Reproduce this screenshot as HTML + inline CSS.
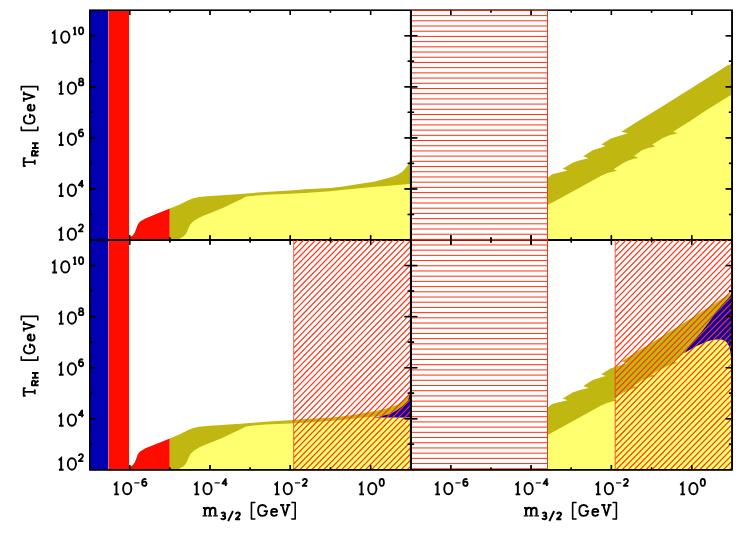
<!DOCTYPE html>
<html><head><meta charset="utf-8"><title>T_RH vs m_3/2</title>
<style>html,body{margin:0;padding:0;background:#fff;overflow:hidden;font-family:"Liberation Sans",sans-serif;}svg{display:block;}</style>
</head><body>
<svg width="747" height="534" viewBox="0 0 747 534">
<rect width="747" height="534" fill="#fff"/>
<defs>
<clipPath id="cTL"><rect x="89.8" y="10.2" width="321.09999999999997" height="229.8"/></clipPath>
<clipPath id="cBL"><rect x="89.8" y="240.0" width="321.09999999999997" height="229.8"/></clipPath>
<clipPath id="cTR"><rect x="410.9" y="10.2" width="321.20000000000005" height="229.8"/></clipPath>
<clipPath id="cBR"><rect x="410.9" y="240.0" width="321.20000000000005" height="229.8"/></clipPath>
<clipPath id="hBL"><rect x="293.7" y="240.0" width="117.19999999999999" height="229.8"/></clipPath>
<clipPath id="hBR"><rect x="615.2" y="240.0" width="116.89999999999998" height="229.8"/></clipPath>
</defs>
<g clip-path="url(#cTL)">
<rect x="89.8" y="10.2" width="18.45" height="229.8" fill="#0000b2"/>
<rect x="108.25" y="10.2" width="0.4" height="229.8" fill="#c8b0a0"/>
<rect x="108.6" y="10.2" width="20.40" height="229.8" fill="#ff0c00"/>
<polygon points="129.0,240.0 129.4,237.7 132.6,235.5 134.7,232.8 136.3,228.6 137.9,224.3 140.1,221.6 145.4,218.4 156.1,214.1 169.8,208.6 169.8,240.0" fill="#ff0c00"/>
<polygon points="169.8,208.6 179.7,204.5 188.3,200.2 192.5,198.4 199.0,197.0 204.0,196.4 210.4,196.0 225.0,195.0 240.5,193.9 265.0,192.0 290.0,190.4 305.0,189.3 330.0,188.0 341.2,186.7 352.5,185.1 363.7,183.3 375.0,181.4 386.2,178.6 391.8,176.9 397.5,174.7 402.0,171.9 405.3,168.5 408.2,164.6 409.8,160.6 410.9,157.5 410.9,240.0 169.8,240.0" fill="#c0b810"/>
<polygon points="178.0,240.0 179.7,238.7 184.0,236.1 186.6,232.8 188.3,228.6 190.4,224.3 193.6,221.1 199.0,217.8 204.0,215.5 210.4,213.0 224.4,207.2 233.0,203.0 240.5,199.4 243.5,198.0 246.0,196.6 252.0,195.9 265.0,194.8 290.0,193.7 305.0,192.9 330.0,191.2 341.2,190.1 352.5,189.0 363.7,187.8 375.0,186.8 386.2,185.9 397.5,185.1 408.7,184.0 410.9,183.6 410.9,240.0" fill="#ffff70"/>
</g>
<g clip-path="url(#cBL)">
<rect x="89.8" y="240.0" width="18.45" height="229.8" fill="#0000b2"/>
<rect x="108.25" y="240.0" width="0.4" height="229.8" fill="#c8b0a0"/>
<rect x="108.6" y="240.0" width="20.40" height="229.8" fill="#ff0c00"/>
<polygon points="129.0,469.8 129.4,467.5 132.6,465.3 134.7,462.6 136.3,458.4 137.9,454.1 140.1,451.4 145.4,448.2 156.1,443.9 169.8,438.4 169.8,469.8" fill="#ff0c00"/>
<polygon points="169.8,438.4 179.7,434.3 188.3,430.0 192.5,428.2 199.0,426.8 204.0,426.2 210.4,425.8 225.0,424.8 240.5,423.7 265.0,421.8 290.0,420.2 305.0,419.1 330.0,417.8 341.2,416.5 352.5,414.9 363.7,413.1 375.0,411.2 386.2,408.4 391.8,406.7 397.5,404.5 402.0,401.7 405.3,398.3 408.2,394.4 409.8,390.4 410.9,387.3 410.9,469.8 169.8,469.8" fill="#c0b810"/>
<polygon points="178.0,469.8 179.7,468.5 184.0,465.9 186.6,462.6 188.3,458.4 190.4,454.1 193.6,450.9 199.0,447.6 204.0,445.3 210.4,442.8 224.4,437.0 233.0,432.8 240.5,429.2 243.5,427.8 246.0,426.4 252.0,425.7 265.0,424.6 290.0,423.5 305.0,422.7 330.0,421.0 341.2,419.9 352.5,418.8 363.7,417.6 375.0,416.6 386.2,415.7 397.5,414.9 408.7,413.8 410.9,413.4 410.9,469.8" fill="#ffff70"/>
</g>
<polygon points="372.0,417.5 379.5,416.7 384.0,415.4 390.0,413.9 393.0,412.4 397.5,409.7 402.0,406.4 405.0,403.7 408.0,400.7 409.1,397.0 409.6,394.0 410.9,392.0 410.9,417.5" fill="#0a00ae"/>
<g clip-path="url(#cTR)"><polygon points="547.5,178.0 552.0,174.3 559.0,172.5 567.5,170.4 562.6,168.7 573.1,162.4 580.1,160.3 588.5,158.2 583.2,156.3 592.7,150.2 599.8,147.9 605.6,146.1 601.2,144.5 611.0,138.5 618.0,136.2 627.9,133.3 621.3,131.7 639.9,120.0 650.0,113.9 670.9,101.1 717.1,71.9 726.8,65.8 732.1,63.4 732.1,240.0 547.5,240.0" fill="#c0b810"/><polygon points="547.5,205.1 559.0,198.9 573.1,191.2 587.1,183.4 601.2,175.7 606.8,173.2 612.4,171.8 617.2,170.8 613.6,169.3 623.3,163.0 629.1,160.3 633.9,158.8 638.7,158.0 633.9,156.1 642.3,150.1 648.4,148.0 655.6,146.3 652.0,144.7 662.8,138.1 670.1,135.1 677.9,133.3 673.1,131.8 691.7,120.0 707.4,109.6 732.1,94.3 732.1,240.0 547.5,240.0" fill="#ffff70"/></g>
<g clip-path="url(#cBR)"><polygon points="547.5,407.8 552.0,404.1 559.0,402.3 567.5,400.2 562.6,398.5 573.1,392.2 580.1,390.1 588.5,388.0 583.2,386.1 592.7,380.0 599.8,377.7 605.6,375.9 601.2,374.3 611.0,368.3 618.0,366.0 627.9,363.1 621.3,361.5 639.9,349.8 650.0,343.7 670.9,330.9 717.1,301.7 726.8,295.6 732.1,293.2 732.1,469.8 547.5,469.8" fill="#c0b810"/><polygon points="684.4,353.1 693.5,340.9 701.8,331.5 709.7,321.2 716.7,311.0 723.0,303.9 727.8,299.0 732.1,293.2 732.1,375.0 684.4,375.0" fill="#0a00ae"/><polygon points="547.5,434.9 559.0,428.7 573.1,421.0 587.1,413.2 601.2,405.5 606.8,403.0 612.4,401.6 617.2,400.6 613.6,399.1 623.3,392.8 629.1,390.1 633.9,388.6 638.7,387.8 633.9,385.9 642.3,379.9 648.4,377.8 655.6,376.1 652.0,374.5 662.8,367.9 670.1,364.9 677.9,363.1 673.1,361.6 684.4,353.1 694.7,346.9 705.0,342.3 711.0,340.2 716.2,339.4 721.8,339.6 726.3,341.8 729.1,346.3 730.4,351.9 731.4,360.9 732.1,372.0 732.1,469.8 547.5,469.8" fill="#ffff70"/></g>
<rect x="89.8" y="10.2" width="642.3000000000001" height="459.6" stroke="#000" stroke-width="1.6" fill="none"/>
<line x1="89.8" y1="240.0" x2="732.1" y2="240.0" stroke="#000" stroke-width="1.8"/>
<line x1="410.9" y1="10.2" x2="410.9" y2="469.8" stroke="#000" stroke-width="1.9"/>
<line x1="129.70" y1="10.2" x2="129.70" y2="15.0" stroke="#000" stroke-width="1.35"/>
<line x1="129.70" y1="235.2" x2="129.70" y2="244.8" stroke="#000" stroke-width="1.35"/>
<line x1="129.70" y1="465.0" x2="129.70" y2="469.8" stroke="#000" stroke-width="1.35"/>
<line x1="169.85" y1="10.2" x2="169.85" y2="12.6" stroke="#000" stroke-width="1.35"/>
<line x1="169.85" y1="237.6" x2="169.85" y2="242.4" stroke="#000" stroke-width="1.35"/>
<line x1="169.85" y1="467.40000000000003" x2="169.85" y2="469.8" stroke="#000" stroke-width="1.35"/>
<line x1="210.00" y1="10.2" x2="210.00" y2="15.0" stroke="#000" stroke-width="1.35"/>
<line x1="210.00" y1="235.2" x2="210.00" y2="244.8" stroke="#000" stroke-width="1.35"/>
<line x1="210.00" y1="465.0" x2="210.00" y2="469.8" stroke="#000" stroke-width="1.35"/>
<line x1="250.15" y1="10.2" x2="250.15" y2="12.6" stroke="#000" stroke-width="1.35"/>
<line x1="250.15" y1="237.6" x2="250.15" y2="242.4" stroke="#000" stroke-width="1.35"/>
<line x1="250.15" y1="467.40000000000003" x2="250.15" y2="469.8" stroke="#000" stroke-width="1.35"/>
<line x1="290.30" y1="10.2" x2="290.30" y2="15.0" stroke="#000" stroke-width="1.35"/>
<line x1="290.30" y1="235.2" x2="290.30" y2="244.8" stroke="#000" stroke-width="1.35"/>
<line x1="290.30" y1="465.0" x2="290.30" y2="469.8" stroke="#000" stroke-width="1.35"/>
<line x1="330.45" y1="10.2" x2="330.45" y2="12.6" stroke="#000" stroke-width="1.35"/>
<line x1="330.45" y1="237.6" x2="330.45" y2="242.4" stroke="#000" stroke-width="1.35"/>
<line x1="330.45" y1="467.40000000000003" x2="330.45" y2="469.8" stroke="#000" stroke-width="1.35"/>
<line x1="370.60" y1="10.2" x2="370.60" y2="15.0" stroke="#000" stroke-width="1.35"/>
<line x1="370.60" y1="235.2" x2="370.60" y2="244.8" stroke="#000" stroke-width="1.35"/>
<line x1="370.60" y1="465.0" x2="370.60" y2="469.8" stroke="#000" stroke-width="1.35"/>
<line x1="450.80" y1="10.2" x2="450.80" y2="15.0" stroke="#000" stroke-width="1.35"/>
<line x1="450.80" y1="235.2" x2="450.80" y2="244.8" stroke="#000" stroke-width="1.35"/>
<line x1="450.80" y1="465.0" x2="450.80" y2="469.8" stroke="#000" stroke-width="1.35"/>
<line x1="490.95" y1="10.2" x2="490.95" y2="12.6" stroke="#000" stroke-width="1.35"/>
<line x1="490.95" y1="237.6" x2="490.95" y2="242.4" stroke="#000" stroke-width="1.35"/>
<line x1="490.95" y1="467.40000000000003" x2="490.95" y2="469.8" stroke="#000" stroke-width="1.35"/>
<line x1="531.10" y1="10.2" x2="531.10" y2="15.0" stroke="#000" stroke-width="1.35"/>
<line x1="531.10" y1="235.2" x2="531.10" y2="244.8" stroke="#000" stroke-width="1.35"/>
<line x1="531.10" y1="465.0" x2="531.10" y2="469.8" stroke="#000" stroke-width="1.35"/>
<line x1="571.25" y1="10.2" x2="571.25" y2="12.6" stroke="#000" stroke-width="1.35"/>
<line x1="571.25" y1="237.6" x2="571.25" y2="242.4" stroke="#000" stroke-width="1.35"/>
<line x1="571.25" y1="467.40000000000003" x2="571.25" y2="469.8" stroke="#000" stroke-width="1.35"/>
<line x1="611.40" y1="10.2" x2="611.40" y2="15.0" stroke="#000" stroke-width="1.35"/>
<line x1="611.40" y1="235.2" x2="611.40" y2="244.8" stroke="#000" stroke-width="1.35"/>
<line x1="611.40" y1="465.0" x2="611.40" y2="469.8" stroke="#000" stroke-width="1.35"/>
<line x1="651.55" y1="10.2" x2="651.55" y2="12.6" stroke="#000" stroke-width="1.35"/>
<line x1="651.55" y1="237.6" x2="651.55" y2="242.4" stroke="#000" stroke-width="1.35"/>
<line x1="651.55" y1="467.40000000000003" x2="651.55" y2="469.8" stroke="#000" stroke-width="1.35"/>
<line x1="691.70" y1="10.2" x2="691.70" y2="15.0" stroke="#000" stroke-width="1.35"/>
<line x1="691.70" y1="235.2" x2="691.70" y2="244.8" stroke="#000" stroke-width="1.35"/>
<line x1="691.70" y1="465.0" x2="691.70" y2="469.8" stroke="#000" stroke-width="1.35"/>
<line x1="89.8" y1="214.47" x2="93.0" y2="214.47" stroke="#000" stroke-width="1.35"/>
<line x1="407.7" y1="214.47" x2="414.09999999999997" y2="214.47" stroke="#000" stroke-width="1.35"/>
<line x1="728.9" y1="214.47" x2="732.1" y2="214.47" stroke="#000" stroke-width="1.35"/>
<line x1="89.8" y1="188.93" x2="96.2" y2="188.93" stroke="#000" stroke-width="1.35"/>
<line x1="404.5" y1="188.93" x2="417.29999999999995" y2="188.93" stroke="#000" stroke-width="1.35"/>
<line x1="725.7" y1="188.93" x2="732.1" y2="188.93" stroke="#000" stroke-width="1.35"/>
<line x1="89.8" y1="163.40" x2="93.0" y2="163.40" stroke="#000" stroke-width="1.35"/>
<line x1="407.7" y1="163.40" x2="414.09999999999997" y2="163.40" stroke="#000" stroke-width="1.35"/>
<line x1="728.9" y1="163.40" x2="732.1" y2="163.40" stroke="#000" stroke-width="1.35"/>
<line x1="89.8" y1="137.87" x2="96.2" y2="137.87" stroke="#000" stroke-width="1.35"/>
<line x1="404.5" y1="137.87" x2="417.29999999999995" y2="137.87" stroke="#000" stroke-width="1.35"/>
<line x1="725.7" y1="137.87" x2="732.1" y2="137.87" stroke="#000" stroke-width="1.35"/>
<line x1="89.8" y1="112.33" x2="93.0" y2="112.33" stroke="#000" stroke-width="1.35"/>
<line x1="407.7" y1="112.33" x2="414.09999999999997" y2="112.33" stroke="#000" stroke-width="1.35"/>
<line x1="728.9" y1="112.33" x2="732.1" y2="112.33" stroke="#000" stroke-width="1.35"/>
<line x1="89.8" y1="86.80" x2="96.2" y2="86.80" stroke="#000" stroke-width="1.35"/>
<line x1="404.5" y1="86.80" x2="417.29999999999995" y2="86.80" stroke="#000" stroke-width="1.35"/>
<line x1="725.7" y1="86.80" x2="732.1" y2="86.80" stroke="#000" stroke-width="1.35"/>
<line x1="89.8" y1="61.27" x2="93.0" y2="61.27" stroke="#000" stroke-width="1.35"/>
<line x1="407.7" y1="61.27" x2="414.09999999999997" y2="61.27" stroke="#000" stroke-width="1.35"/>
<line x1="728.9" y1="61.27" x2="732.1" y2="61.27" stroke="#000" stroke-width="1.35"/>
<line x1="89.8" y1="35.73" x2="96.2" y2="35.73" stroke="#000" stroke-width="1.35"/>
<line x1="404.5" y1="35.73" x2="417.29999999999995" y2="35.73" stroke="#000" stroke-width="1.35"/>
<line x1="725.7" y1="35.73" x2="732.1" y2="35.73" stroke="#000" stroke-width="1.35"/>
<line x1="89.8" y1="444.27" x2="93.0" y2="444.27" stroke="#000" stroke-width="1.35"/>
<line x1="407.7" y1="444.27" x2="414.09999999999997" y2="444.27" stroke="#000" stroke-width="1.35"/>
<line x1="728.9" y1="444.27" x2="732.1" y2="444.27" stroke="#000" stroke-width="1.35"/>
<line x1="89.8" y1="418.73" x2="96.2" y2="418.73" stroke="#000" stroke-width="1.35"/>
<line x1="404.5" y1="418.73" x2="417.29999999999995" y2="418.73" stroke="#000" stroke-width="1.35"/>
<line x1="725.7" y1="418.73" x2="732.1" y2="418.73" stroke="#000" stroke-width="1.35"/>
<line x1="89.8" y1="393.20" x2="93.0" y2="393.20" stroke="#000" stroke-width="1.35"/>
<line x1="407.7" y1="393.20" x2="414.09999999999997" y2="393.20" stroke="#000" stroke-width="1.35"/>
<line x1="728.9" y1="393.20" x2="732.1" y2="393.20" stroke="#000" stroke-width="1.35"/>
<line x1="89.8" y1="367.67" x2="96.2" y2="367.67" stroke="#000" stroke-width="1.35"/>
<line x1="404.5" y1="367.67" x2="417.29999999999995" y2="367.67" stroke="#000" stroke-width="1.35"/>
<line x1="725.7" y1="367.67" x2="732.1" y2="367.67" stroke="#000" stroke-width="1.35"/>
<line x1="89.8" y1="342.13" x2="93.0" y2="342.13" stroke="#000" stroke-width="1.35"/>
<line x1="407.7" y1="342.13" x2="414.09999999999997" y2="342.13" stroke="#000" stroke-width="1.35"/>
<line x1="728.9" y1="342.13" x2="732.1" y2="342.13" stroke="#000" stroke-width="1.35"/>
<line x1="89.8" y1="316.60" x2="96.2" y2="316.60" stroke="#000" stroke-width="1.35"/>
<line x1="404.5" y1="316.60" x2="417.29999999999995" y2="316.60" stroke="#000" stroke-width="1.35"/>
<line x1="725.7" y1="316.60" x2="732.1" y2="316.60" stroke="#000" stroke-width="1.35"/>
<line x1="89.8" y1="291.07" x2="93.0" y2="291.07" stroke="#000" stroke-width="1.35"/>
<line x1="407.7" y1="291.07" x2="414.09999999999997" y2="291.07" stroke="#000" stroke-width="1.35"/>
<line x1="728.9" y1="291.07" x2="732.1" y2="291.07" stroke="#000" stroke-width="1.35"/>
<line x1="89.8" y1="265.53" x2="96.2" y2="265.53" stroke="#000" stroke-width="1.35"/>
<line x1="404.5" y1="265.53" x2="417.29999999999995" y2="265.53" stroke="#000" stroke-width="1.35"/>
<line x1="725.7" y1="265.53" x2="732.1" y2="265.53" stroke="#000" stroke-width="1.35"/>
<line x1="411.79999999999995" y1="10.40" x2="547.5" y2="10.40" stroke="#ff3010" stroke-width="1.0"/>
<line x1="411.79999999999995" y1="15.60" x2="547.5" y2="15.60" stroke="#ff3010" stroke-width="1.0"/>
<line x1="411.79999999999995" y1="20.81" x2="547.5" y2="20.81" stroke="#ff3010" stroke-width="1.0"/>
<line x1="411.79999999999995" y1="26.02" x2="547.5" y2="26.02" stroke="#ff3010" stroke-width="1.0"/>
<line x1="411.79999999999995" y1="31.22" x2="547.5" y2="31.22" stroke="#ff3010" stroke-width="1.0"/>
<line x1="411.79999999999995" y1="36.42" x2="547.5" y2="36.42" stroke="#ff3010" stroke-width="1.0"/>
<line x1="411.79999999999995" y1="41.63" x2="547.5" y2="41.63" stroke="#ff3010" stroke-width="1.0"/>
<line x1="411.79999999999995" y1="46.84" x2="547.5" y2="46.84" stroke="#ff3010" stroke-width="1.0"/>
<line x1="411.79999999999995" y1="52.04" x2="547.5" y2="52.04" stroke="#ff3010" stroke-width="1.0"/>
<line x1="411.79999999999995" y1="57.24" x2="547.5" y2="57.24" stroke="#ff3010" stroke-width="1.0"/>
<line x1="411.79999999999995" y1="62.45" x2="547.5" y2="62.45" stroke="#ff3010" stroke-width="1.0"/>
<line x1="411.79999999999995" y1="67.66" x2="547.5" y2="67.66" stroke="#ff3010" stroke-width="1.0"/>
<line x1="411.79999999999995" y1="72.86" x2="547.5" y2="72.86" stroke="#ff3010" stroke-width="1.0"/>
<line x1="411.79999999999995" y1="78.06" x2="547.5" y2="78.06" stroke="#ff3010" stroke-width="1.0"/>
<line x1="411.79999999999995" y1="83.27" x2="547.5" y2="83.27" stroke="#ff3010" stroke-width="1.0"/>
<line x1="411.79999999999995" y1="88.47" x2="547.5" y2="88.47" stroke="#ff3010" stroke-width="1.0"/>
<line x1="411.79999999999995" y1="93.68" x2="547.5" y2="93.68" stroke="#ff3010" stroke-width="1.0"/>
<line x1="411.79999999999995" y1="98.88" x2="547.5" y2="98.88" stroke="#ff3010" stroke-width="1.0"/>
<line x1="411.79999999999995" y1="104.09" x2="547.5" y2="104.09" stroke="#ff3010" stroke-width="1.0"/>
<line x1="411.79999999999995" y1="109.29" x2="547.5" y2="109.29" stroke="#ff3010" stroke-width="1.0"/>
<line x1="411.79999999999995" y1="114.50" x2="547.5" y2="114.50" stroke="#ff3010" stroke-width="1.0"/>
<line x1="411.79999999999995" y1="119.71" x2="547.5" y2="119.71" stroke="#ff3010" stroke-width="1.0"/>
<line x1="411.79999999999995" y1="124.91" x2="547.5" y2="124.91" stroke="#ff3010" stroke-width="1.0"/>
<line x1="411.79999999999995" y1="130.12" x2="547.5" y2="130.12" stroke="#ff3010" stroke-width="1.0"/>
<line x1="411.79999999999995" y1="135.32" x2="547.5" y2="135.32" stroke="#ff3010" stroke-width="1.0"/>
<line x1="411.79999999999995" y1="140.53" x2="547.5" y2="140.53" stroke="#ff3010" stroke-width="1.0"/>
<line x1="411.79999999999995" y1="145.73" x2="547.5" y2="145.73" stroke="#ff3010" stroke-width="1.0"/>
<line x1="411.79999999999995" y1="150.94" x2="547.5" y2="150.94" stroke="#ff3010" stroke-width="1.0"/>
<line x1="411.79999999999995" y1="156.14" x2="547.5" y2="156.14" stroke="#ff3010" stroke-width="1.0"/>
<line x1="411.79999999999995" y1="161.34" x2="547.5" y2="161.34" stroke="#ff3010" stroke-width="1.0"/>
<line x1="411.79999999999995" y1="166.55" x2="547.5" y2="166.55" stroke="#ff3010" stroke-width="1.0"/>
<line x1="411.79999999999995" y1="171.75" x2="547.5" y2="171.75" stroke="#ff3010" stroke-width="1.0"/>
<line x1="411.79999999999995" y1="176.96" x2="547.5" y2="176.96" stroke="#ff3010" stroke-width="1.0"/>
<line x1="411.79999999999995" y1="182.17" x2="547.5" y2="182.17" stroke="#ff3010" stroke-width="1.0"/>
<line x1="411.79999999999995" y1="187.37" x2="547.5" y2="187.37" stroke="#ff3010" stroke-width="1.0"/>
<line x1="411.79999999999995" y1="192.58" x2="547.5" y2="192.58" stroke="#ff3010" stroke-width="1.0"/>
<line x1="411.79999999999995" y1="197.78" x2="547.5" y2="197.78" stroke="#ff3010" stroke-width="1.0"/>
<line x1="411.79999999999995" y1="202.99" x2="547.5" y2="202.99" stroke="#ff3010" stroke-width="1.0"/>
<line x1="411.79999999999995" y1="208.19" x2="547.5" y2="208.19" stroke="#ff3010" stroke-width="1.0"/>
<line x1="411.79999999999995" y1="213.40" x2="547.5" y2="213.40" stroke="#ff3010" stroke-width="1.0"/>
<line x1="411.79999999999995" y1="218.60" x2="547.5" y2="218.60" stroke="#ff3010" stroke-width="1.0"/>
<line x1="411.79999999999995" y1="223.81" x2="547.5" y2="223.81" stroke="#ff3010" stroke-width="1.0"/>
<line x1="411.79999999999995" y1="229.01" x2="547.5" y2="229.01" stroke="#ff3010" stroke-width="1.0"/>
<line x1="411.79999999999995" y1="234.22" x2="547.5" y2="234.22" stroke="#ff3010" stroke-width="1.0"/>
<line x1="411.79999999999995" y1="239.42" x2="547.5" y2="239.42" stroke="#ff3010" stroke-width="1.0"/>
<line x1="411.79999999999995" y1="239.75" x2="547.5" y2="239.75" stroke="#ff3010" stroke-width="1.0"/>
<line x1="411.79999999999995" y1="244.96" x2="547.5" y2="244.96" stroke="#ff3010" stroke-width="1.0"/>
<line x1="411.79999999999995" y1="250.16" x2="547.5" y2="250.16" stroke="#ff3010" stroke-width="1.0"/>
<line x1="411.79999999999995" y1="255.37" x2="547.5" y2="255.37" stroke="#ff3010" stroke-width="1.0"/>
<line x1="411.79999999999995" y1="260.57" x2="547.5" y2="260.57" stroke="#ff3010" stroke-width="1.0"/>
<line x1="411.79999999999995" y1="265.77" x2="547.5" y2="265.77" stroke="#ff3010" stroke-width="1.0"/>
<line x1="411.79999999999995" y1="270.98" x2="547.5" y2="270.98" stroke="#ff3010" stroke-width="1.0"/>
<line x1="411.79999999999995" y1="276.19" x2="547.5" y2="276.19" stroke="#ff3010" stroke-width="1.0"/>
<line x1="411.79999999999995" y1="281.39" x2="547.5" y2="281.39" stroke="#ff3010" stroke-width="1.0"/>
<line x1="411.79999999999995" y1="286.60" x2="547.5" y2="286.60" stroke="#ff3010" stroke-width="1.0"/>
<line x1="411.79999999999995" y1="291.80" x2="547.5" y2="291.80" stroke="#ff3010" stroke-width="1.0"/>
<line x1="411.79999999999995" y1="297.00" x2="547.5" y2="297.00" stroke="#ff3010" stroke-width="1.0"/>
<line x1="411.79999999999995" y1="302.21" x2="547.5" y2="302.21" stroke="#ff3010" stroke-width="1.0"/>
<line x1="411.79999999999995" y1="307.42" x2="547.5" y2="307.42" stroke="#ff3010" stroke-width="1.0"/>
<line x1="411.79999999999995" y1="312.62" x2="547.5" y2="312.62" stroke="#ff3010" stroke-width="1.0"/>
<line x1="411.79999999999995" y1="317.82" x2="547.5" y2="317.82" stroke="#ff3010" stroke-width="1.0"/>
<line x1="411.79999999999995" y1="323.03" x2="547.5" y2="323.03" stroke="#ff3010" stroke-width="1.0"/>
<line x1="411.79999999999995" y1="328.24" x2="547.5" y2="328.24" stroke="#ff3010" stroke-width="1.0"/>
<line x1="411.79999999999995" y1="333.44" x2="547.5" y2="333.44" stroke="#ff3010" stroke-width="1.0"/>
<line x1="411.79999999999995" y1="338.64" x2="547.5" y2="338.64" stroke="#ff3010" stroke-width="1.0"/>
<line x1="411.79999999999995" y1="343.85" x2="547.5" y2="343.85" stroke="#ff3010" stroke-width="1.0"/>
<line x1="411.79999999999995" y1="349.06" x2="547.5" y2="349.06" stroke="#ff3010" stroke-width="1.0"/>
<line x1="411.79999999999995" y1="354.26" x2="547.5" y2="354.26" stroke="#ff3010" stroke-width="1.0"/>
<line x1="411.79999999999995" y1="359.47" x2="547.5" y2="359.47" stroke="#ff3010" stroke-width="1.0"/>
<line x1="411.79999999999995" y1="364.67" x2="547.5" y2="364.67" stroke="#ff3010" stroke-width="1.0"/>
<line x1="411.79999999999995" y1="369.88" x2="547.5" y2="369.88" stroke="#ff3010" stroke-width="1.0"/>
<line x1="411.79999999999995" y1="375.08" x2="547.5" y2="375.08" stroke="#ff3010" stroke-width="1.0"/>
<line x1="411.79999999999995" y1="380.28" x2="547.5" y2="380.28" stroke="#ff3010" stroke-width="1.0"/>
<line x1="411.79999999999995" y1="385.49" x2="547.5" y2="385.49" stroke="#ff3010" stroke-width="1.0"/>
<line x1="411.79999999999995" y1="390.69" x2="547.5" y2="390.69" stroke="#ff3010" stroke-width="1.0"/>
<line x1="411.79999999999995" y1="395.90" x2="547.5" y2="395.90" stroke="#ff3010" stroke-width="1.0"/>
<line x1="411.79999999999995" y1="401.11" x2="547.5" y2="401.11" stroke="#ff3010" stroke-width="1.0"/>
<line x1="411.79999999999995" y1="406.31" x2="547.5" y2="406.31" stroke="#ff3010" stroke-width="1.0"/>
<line x1="411.79999999999995" y1="411.51" x2="547.5" y2="411.51" stroke="#ff3010" stroke-width="1.0"/>
<line x1="411.79999999999995" y1="416.72" x2="547.5" y2="416.72" stroke="#ff3010" stroke-width="1.0"/>
<line x1="411.79999999999995" y1="421.93" x2="547.5" y2="421.93" stroke="#ff3010" stroke-width="1.0"/>
<line x1="411.79999999999995" y1="427.13" x2="547.5" y2="427.13" stroke="#ff3010" stroke-width="1.0"/>
<line x1="411.79999999999995" y1="432.34" x2="547.5" y2="432.34" stroke="#ff3010" stroke-width="1.0"/>
<line x1="411.79999999999995" y1="437.54" x2="547.5" y2="437.54" stroke="#ff3010" stroke-width="1.0"/>
<line x1="411.79999999999995" y1="442.75" x2="547.5" y2="442.75" stroke="#ff3010" stroke-width="1.0"/>
<line x1="411.79999999999995" y1="447.95" x2="547.5" y2="447.95" stroke="#ff3010" stroke-width="1.0"/>
<line x1="411.79999999999995" y1="453.15" x2="547.5" y2="453.15" stroke="#ff3010" stroke-width="1.0"/>
<line x1="411.79999999999995" y1="458.36" x2="547.5" y2="458.36" stroke="#ff3010" stroke-width="1.0"/>
<line x1="411.79999999999995" y1="463.56" x2="547.5" y2="463.56" stroke="#ff3010" stroke-width="1.0"/>
<line x1="411.79999999999995" y1="468.77" x2="547.5" y2="468.77" stroke="#ff3010" stroke-width="1.0"/>
<line x1="411.79999999999995" y1="240.3" x2="547.5" y2="240.3" stroke="#d01c00" stroke-width="1.1" opacity="0.85"/>
<line x1="450.80" y1="235.2" x2="450.80" y2="244.8" stroke="#000" stroke-width="1.35"/>
<line x1="490.95" y1="237.6" x2="490.95" y2="242.4" stroke="#000" stroke-width="1.35"/>
<line x1="531.10" y1="235.2" x2="531.10" y2="244.8" stroke="#000" stroke-width="1.35"/>
<line x1="547.5" y1="10.2" x2="547.5" y2="469.8" stroke="#ff3010" stroke-width="1.0"/>
<g clip-path="url(#hBL)">
<line x1="293.70" y1="-115.70" x2="410.90" y2="-235.66" stroke="#ff3010" stroke-width="1.2"/>
<line x1="293.70" y1="-109.60" x2="410.90" y2="-229.56" stroke="#ff3010" stroke-width="1.2"/>
<line x1="293.70" y1="-103.50" x2="410.90" y2="-223.46" stroke="#ff3010" stroke-width="1.2"/>
<line x1="293.70" y1="-97.40" x2="410.90" y2="-217.36" stroke="#ff3010" stroke-width="1.2"/>
<line x1="293.70" y1="-91.30" x2="410.90" y2="-211.26" stroke="#ff3010" stroke-width="1.2"/>
<line x1="293.70" y1="-85.20" x2="410.90" y2="-205.16" stroke="#ff3010" stroke-width="1.2"/>
<line x1="293.70" y1="-79.10" x2="410.90" y2="-199.06" stroke="#ff3010" stroke-width="1.2"/>
<line x1="293.70" y1="-73.00" x2="410.90" y2="-192.96" stroke="#ff3010" stroke-width="1.2"/>
<line x1="293.70" y1="-66.90" x2="410.90" y2="-186.86" stroke="#ff3010" stroke-width="1.2"/>
<line x1="293.70" y1="-60.80" x2="410.90" y2="-180.76" stroke="#ff3010" stroke-width="1.2"/>
<line x1="293.70" y1="-54.70" x2="410.90" y2="-174.66" stroke="#ff3010" stroke-width="1.2"/>
<line x1="293.70" y1="-48.60" x2="410.90" y2="-168.56" stroke="#ff3010" stroke-width="1.2"/>
<line x1="293.70" y1="-42.50" x2="410.90" y2="-162.46" stroke="#ff3010" stroke-width="1.2"/>
<line x1="293.70" y1="-36.40" x2="410.90" y2="-156.36" stroke="#ff3010" stroke-width="1.2"/>
<line x1="293.70" y1="-30.30" x2="410.90" y2="-150.26" stroke="#ff3010" stroke-width="1.2"/>
<line x1="293.70" y1="-24.20" x2="410.90" y2="-144.16" stroke="#ff3010" stroke-width="1.2"/>
<line x1="293.70" y1="-18.10" x2="410.90" y2="-138.06" stroke="#ff3010" stroke-width="1.2"/>
<line x1="293.70" y1="-12.00" x2="410.90" y2="-131.96" stroke="#ff3010" stroke-width="1.2"/>
<line x1="293.70" y1="-5.90" x2="410.90" y2="-125.86" stroke="#ff3010" stroke-width="1.2"/>
<line x1="293.70" y1="0.20" x2="410.90" y2="-119.76" stroke="#ff3010" stroke-width="1.2"/>
<line x1="293.70" y1="6.30" x2="410.90" y2="-113.66" stroke="#ff3010" stroke-width="1.2"/>
<line x1="293.70" y1="12.40" x2="410.90" y2="-107.56" stroke="#ff3010" stroke-width="1.2"/>
<line x1="293.70" y1="18.50" x2="410.90" y2="-101.46" stroke="#ff3010" stroke-width="1.2"/>
<line x1="293.70" y1="24.60" x2="410.90" y2="-95.36" stroke="#ff3010" stroke-width="1.2"/>
<line x1="293.70" y1="30.70" x2="410.90" y2="-89.26" stroke="#ff3010" stroke-width="1.2"/>
<line x1="293.70" y1="36.80" x2="410.90" y2="-83.16" stroke="#ff3010" stroke-width="1.2"/>
<line x1="293.70" y1="42.90" x2="410.90" y2="-77.06" stroke="#ff3010" stroke-width="1.2"/>
<line x1="293.70" y1="49.00" x2="410.90" y2="-70.96" stroke="#ff3010" stroke-width="1.2"/>
<line x1="293.70" y1="55.10" x2="410.90" y2="-64.86" stroke="#ff3010" stroke-width="1.2"/>
<line x1="293.70" y1="61.20" x2="410.90" y2="-58.76" stroke="#ff3010" stroke-width="1.2"/>
<line x1="293.70" y1="67.30" x2="410.90" y2="-52.66" stroke="#ff3010" stroke-width="1.2"/>
<line x1="293.70" y1="73.40" x2="410.90" y2="-46.56" stroke="#ff3010" stroke-width="1.2"/>
<line x1="293.70" y1="79.50" x2="410.90" y2="-40.46" stroke="#ff3010" stroke-width="1.2"/>
<line x1="293.70" y1="85.60" x2="410.90" y2="-34.36" stroke="#ff3010" stroke-width="1.2"/>
<line x1="293.70" y1="91.70" x2="410.90" y2="-28.26" stroke="#ff3010" stroke-width="1.2"/>
<line x1="293.70" y1="97.80" x2="410.90" y2="-22.16" stroke="#ff3010" stroke-width="1.2"/>
<line x1="293.70" y1="103.90" x2="410.90" y2="-16.06" stroke="#ff3010" stroke-width="1.2"/>
<line x1="293.70" y1="110.00" x2="410.90" y2="-9.96" stroke="#ff3010" stroke-width="1.2"/>
<line x1="293.70" y1="116.10" x2="410.90" y2="-3.86" stroke="#ff3010" stroke-width="1.2"/>
<line x1="293.70" y1="122.20" x2="410.90" y2="2.24" stroke="#ff3010" stroke-width="1.2"/>
<line x1="293.70" y1="128.30" x2="410.90" y2="8.34" stroke="#ff3010" stroke-width="1.2"/>
<line x1="293.70" y1="134.40" x2="410.90" y2="14.44" stroke="#ff3010" stroke-width="1.2"/>
<line x1="293.70" y1="140.50" x2="410.90" y2="20.54" stroke="#ff3010" stroke-width="1.2"/>
<line x1="293.70" y1="146.60" x2="410.90" y2="26.64" stroke="#ff3010" stroke-width="1.2"/>
<line x1="293.70" y1="152.70" x2="410.90" y2="32.74" stroke="#ff3010" stroke-width="1.2"/>
<line x1="293.70" y1="158.80" x2="410.90" y2="38.84" stroke="#ff3010" stroke-width="1.2"/>
<line x1="293.70" y1="164.90" x2="410.90" y2="44.94" stroke="#ff3010" stroke-width="1.2"/>
<line x1="293.70" y1="171.00" x2="410.90" y2="51.04" stroke="#ff3010" stroke-width="1.2"/>
<line x1="293.70" y1="177.10" x2="410.90" y2="57.14" stroke="#ff3010" stroke-width="1.2"/>
<line x1="293.70" y1="183.20" x2="410.90" y2="63.24" stroke="#ff3010" stroke-width="1.2"/>
<line x1="293.70" y1="189.30" x2="410.90" y2="69.34" stroke="#ff3010" stroke-width="1.2"/>
<line x1="293.70" y1="195.40" x2="410.90" y2="75.44" stroke="#ff3010" stroke-width="1.2"/>
<line x1="293.70" y1="201.50" x2="410.90" y2="81.54" stroke="#ff3010" stroke-width="1.2"/>
<line x1="293.70" y1="207.60" x2="410.90" y2="87.64" stroke="#ff3010" stroke-width="1.2"/>
<line x1="293.70" y1="213.70" x2="410.90" y2="93.74" stroke="#ff3010" stroke-width="1.2"/>
<line x1="293.70" y1="219.80" x2="410.90" y2="99.84" stroke="#ff3010" stroke-width="1.2"/>
<line x1="293.70" y1="225.90" x2="410.90" y2="105.94" stroke="#ff3010" stroke-width="1.2"/>
<line x1="293.70" y1="232.00" x2="410.90" y2="112.04" stroke="#ff3010" stroke-width="1.2"/>
<line x1="293.70" y1="238.10" x2="410.90" y2="118.14" stroke="#ff3010" stroke-width="1.2"/>
<line x1="293.70" y1="244.20" x2="410.90" y2="124.24" stroke="#ff3010" stroke-width="1.2"/>
<line x1="293.70" y1="250.30" x2="410.90" y2="130.34" stroke="#ff3010" stroke-width="1.2"/>
<line x1="293.70" y1="256.40" x2="410.90" y2="136.44" stroke="#ff3010" stroke-width="1.2"/>
<line x1="293.70" y1="262.50" x2="410.90" y2="142.54" stroke="#ff3010" stroke-width="1.2"/>
<line x1="293.70" y1="268.60" x2="410.90" y2="148.64" stroke="#ff3010" stroke-width="1.2"/>
<line x1="293.70" y1="274.70" x2="410.90" y2="154.74" stroke="#ff3010" stroke-width="1.2"/>
<line x1="293.70" y1="280.80" x2="410.90" y2="160.84" stroke="#ff3010" stroke-width="1.2"/>
<line x1="293.70" y1="286.90" x2="410.90" y2="166.94" stroke="#ff3010" stroke-width="1.2"/>
<line x1="293.70" y1="293.00" x2="410.90" y2="173.04" stroke="#ff3010" stroke-width="1.2"/>
<line x1="293.70" y1="299.10" x2="410.90" y2="179.14" stroke="#ff3010" stroke-width="1.2"/>
<line x1="293.70" y1="305.20" x2="410.90" y2="185.24" stroke="#ff3010" stroke-width="1.2"/>
<line x1="293.70" y1="311.30" x2="410.90" y2="191.34" stroke="#ff3010" stroke-width="1.2"/>
<line x1="293.70" y1="317.40" x2="410.90" y2="197.44" stroke="#ff3010" stroke-width="1.2"/>
<line x1="293.70" y1="323.50" x2="410.90" y2="203.54" stroke="#ff3010" stroke-width="1.2"/>
<line x1="293.70" y1="329.60" x2="410.90" y2="209.64" stroke="#ff3010" stroke-width="1.2"/>
<line x1="293.70" y1="335.70" x2="410.90" y2="215.74" stroke="#ff3010" stroke-width="1.2"/>
<line x1="293.70" y1="341.80" x2="410.90" y2="221.84" stroke="#ff3010" stroke-width="1.2"/>
<line x1="293.70" y1="347.90" x2="410.90" y2="227.94" stroke="#ff3010" stroke-width="1.2"/>
<line x1="293.70" y1="354.00" x2="410.90" y2="234.04" stroke="#ff3010" stroke-width="1.2"/>
<line x1="293.70" y1="360.10" x2="410.90" y2="240.14" stroke="#ff3010" stroke-width="1.2"/>
<line x1="293.70" y1="366.20" x2="410.90" y2="246.24" stroke="#ff3010" stroke-width="1.2"/>
<line x1="293.70" y1="372.30" x2="410.90" y2="252.34" stroke="#ff3010" stroke-width="1.2"/>
<line x1="293.70" y1="378.40" x2="410.90" y2="258.44" stroke="#ff3010" stroke-width="1.2"/>
<line x1="293.70" y1="384.50" x2="410.90" y2="264.54" stroke="#ff3010" stroke-width="1.2"/>
<line x1="293.70" y1="390.60" x2="410.90" y2="270.64" stroke="#ff3010" stroke-width="1.2"/>
<line x1="293.70" y1="396.70" x2="410.90" y2="276.74" stroke="#ff3010" stroke-width="1.2"/>
<line x1="293.70" y1="402.80" x2="410.90" y2="282.84" stroke="#ff3010" stroke-width="1.2"/>
<line x1="293.70" y1="408.90" x2="410.90" y2="288.94" stroke="#ff3010" stroke-width="1.2"/>
<line x1="293.70" y1="415.00" x2="410.90" y2="295.04" stroke="#ff3010" stroke-width="1.2"/>
<line x1="293.70" y1="421.10" x2="410.90" y2="301.14" stroke="#ff3010" stroke-width="1.2"/>
<line x1="293.70" y1="427.20" x2="410.90" y2="307.24" stroke="#ff3010" stroke-width="1.2"/>
<line x1="293.70" y1="433.30" x2="410.90" y2="313.34" stroke="#ff3010" stroke-width="1.2"/>
<line x1="293.70" y1="439.40" x2="410.90" y2="319.44" stroke="#ff3010" stroke-width="1.2"/>
<line x1="293.70" y1="445.50" x2="410.90" y2="325.54" stroke="#ff3010" stroke-width="1.2"/>
<line x1="293.70" y1="451.60" x2="410.90" y2="331.64" stroke="#ff3010" stroke-width="1.2"/>
<line x1="293.70" y1="457.70" x2="410.90" y2="337.74" stroke="#ff3010" stroke-width="1.2"/>
<line x1="293.70" y1="463.80" x2="410.90" y2="343.84" stroke="#ff3010" stroke-width="1.2"/>
<line x1="293.70" y1="469.90" x2="410.90" y2="349.94" stroke="#ff3010" stroke-width="1.2"/>
<line x1="293.70" y1="476.00" x2="410.90" y2="356.04" stroke="#ff3010" stroke-width="1.2"/>
<line x1="293.70" y1="482.10" x2="410.90" y2="362.14" stroke="#ff3010" stroke-width="1.2"/>
<line x1="293.70" y1="488.20" x2="410.90" y2="368.24" stroke="#ff3010" stroke-width="1.2"/>
<line x1="293.70" y1="494.30" x2="410.90" y2="374.34" stroke="#ff3010" stroke-width="1.2"/>
<line x1="293.70" y1="500.40" x2="410.90" y2="380.44" stroke="#ff3010" stroke-width="1.2"/>
<line x1="293.70" y1="506.50" x2="410.90" y2="386.54" stroke="#ff3010" stroke-width="1.2"/>
<line x1="293.70" y1="512.60" x2="410.90" y2="392.64" stroke="#ff3010" stroke-width="1.2"/>
<line x1="293.70" y1="518.70" x2="410.90" y2="398.74" stroke="#ff3010" stroke-width="1.2"/>
<line x1="293.70" y1="524.80" x2="410.90" y2="404.84" stroke="#ff3010" stroke-width="1.2"/>
<line x1="293.70" y1="530.90" x2="410.90" y2="410.94" stroke="#ff3010" stroke-width="1.2"/>
<line x1="293.70" y1="537.00" x2="410.90" y2="417.04" stroke="#ff3010" stroke-width="1.2"/>
<line x1="293.70" y1="543.10" x2="410.90" y2="423.14" stroke="#ff3010" stroke-width="1.2"/>
<line x1="293.70" y1="549.20" x2="410.90" y2="429.24" stroke="#ff3010" stroke-width="1.2"/>
<line x1="293.70" y1="555.30" x2="410.90" y2="435.34" stroke="#ff3010" stroke-width="1.2"/>
<line x1="293.70" y1="561.40" x2="410.90" y2="441.44" stroke="#ff3010" stroke-width="1.2"/>
<line x1="293.70" y1="567.50" x2="410.90" y2="447.54" stroke="#ff3010" stroke-width="1.2"/>
<line x1="293.70" y1="573.60" x2="410.90" y2="453.64" stroke="#ff3010" stroke-width="1.2"/>
<line x1="293.70" y1="579.70" x2="410.90" y2="459.74" stroke="#ff3010" stroke-width="1.2"/>
<line x1="293.70" y1="585.80" x2="410.90" y2="465.84" stroke="#ff3010" stroke-width="1.2"/>
<line x1="293.70" y1="591.90" x2="410.90" y2="471.94" stroke="#ff3010" stroke-width="1.2"/>
<line x1="293.70" y1="598.00" x2="410.90" y2="478.04" stroke="#ff3010" stroke-width="1.2"/>
</g>
<line x1="293.7" y1="240.0" x2="293.7" y2="469.8" stroke="#ff3010" stroke-width="0.8"/>
<g clip-path="url(#hBR)">
<line x1="615.20" y1="-114.86" x2="732.10" y2="-234.50" stroke="#ff3010" stroke-width="1.2"/>
<line x1="615.20" y1="-108.76" x2="732.10" y2="-228.40" stroke="#ff3010" stroke-width="1.2"/>
<line x1="615.20" y1="-102.66" x2="732.10" y2="-222.30" stroke="#ff3010" stroke-width="1.2"/>
<line x1="615.20" y1="-96.56" x2="732.10" y2="-216.20" stroke="#ff3010" stroke-width="1.2"/>
<line x1="615.20" y1="-90.46" x2="732.10" y2="-210.10" stroke="#ff3010" stroke-width="1.2"/>
<line x1="615.20" y1="-84.36" x2="732.10" y2="-204.00" stroke="#ff3010" stroke-width="1.2"/>
<line x1="615.20" y1="-78.26" x2="732.10" y2="-197.90" stroke="#ff3010" stroke-width="1.2"/>
<line x1="615.20" y1="-72.16" x2="732.10" y2="-191.80" stroke="#ff3010" stroke-width="1.2"/>
<line x1="615.20" y1="-66.06" x2="732.10" y2="-185.70" stroke="#ff3010" stroke-width="1.2"/>
<line x1="615.20" y1="-59.96" x2="732.10" y2="-179.60" stroke="#ff3010" stroke-width="1.2"/>
<line x1="615.20" y1="-53.86" x2="732.10" y2="-173.50" stroke="#ff3010" stroke-width="1.2"/>
<line x1="615.20" y1="-47.76" x2="732.10" y2="-167.40" stroke="#ff3010" stroke-width="1.2"/>
<line x1="615.20" y1="-41.66" x2="732.10" y2="-161.30" stroke="#ff3010" stroke-width="1.2"/>
<line x1="615.20" y1="-35.56" x2="732.10" y2="-155.20" stroke="#ff3010" stroke-width="1.2"/>
<line x1="615.20" y1="-29.46" x2="732.10" y2="-149.10" stroke="#ff3010" stroke-width="1.2"/>
<line x1="615.20" y1="-23.36" x2="732.10" y2="-143.00" stroke="#ff3010" stroke-width="1.2"/>
<line x1="615.20" y1="-17.26" x2="732.10" y2="-136.90" stroke="#ff3010" stroke-width="1.2"/>
<line x1="615.20" y1="-11.16" x2="732.10" y2="-130.80" stroke="#ff3010" stroke-width="1.2"/>
<line x1="615.20" y1="-5.06" x2="732.10" y2="-124.70" stroke="#ff3010" stroke-width="1.2"/>
<line x1="615.20" y1="1.04" x2="732.10" y2="-118.60" stroke="#ff3010" stroke-width="1.2"/>
<line x1="615.20" y1="7.14" x2="732.10" y2="-112.50" stroke="#ff3010" stroke-width="1.2"/>
<line x1="615.20" y1="13.24" x2="732.10" y2="-106.40" stroke="#ff3010" stroke-width="1.2"/>
<line x1="615.20" y1="19.34" x2="732.10" y2="-100.30" stroke="#ff3010" stroke-width="1.2"/>
<line x1="615.20" y1="25.44" x2="732.10" y2="-94.20" stroke="#ff3010" stroke-width="1.2"/>
<line x1="615.20" y1="31.54" x2="732.10" y2="-88.10" stroke="#ff3010" stroke-width="1.2"/>
<line x1="615.20" y1="37.64" x2="732.10" y2="-82.00" stroke="#ff3010" stroke-width="1.2"/>
<line x1="615.20" y1="43.74" x2="732.10" y2="-75.90" stroke="#ff3010" stroke-width="1.2"/>
<line x1="615.20" y1="49.84" x2="732.10" y2="-69.80" stroke="#ff3010" stroke-width="1.2"/>
<line x1="615.20" y1="55.94" x2="732.10" y2="-63.70" stroke="#ff3010" stroke-width="1.2"/>
<line x1="615.20" y1="62.04" x2="732.10" y2="-57.60" stroke="#ff3010" stroke-width="1.2"/>
<line x1="615.20" y1="68.14" x2="732.10" y2="-51.50" stroke="#ff3010" stroke-width="1.2"/>
<line x1="615.20" y1="74.24" x2="732.10" y2="-45.40" stroke="#ff3010" stroke-width="1.2"/>
<line x1="615.20" y1="80.34" x2="732.10" y2="-39.30" stroke="#ff3010" stroke-width="1.2"/>
<line x1="615.20" y1="86.44" x2="732.10" y2="-33.20" stroke="#ff3010" stroke-width="1.2"/>
<line x1="615.20" y1="92.54" x2="732.10" y2="-27.10" stroke="#ff3010" stroke-width="1.2"/>
<line x1="615.20" y1="98.64" x2="732.10" y2="-21.00" stroke="#ff3010" stroke-width="1.2"/>
<line x1="615.20" y1="104.74" x2="732.10" y2="-14.90" stroke="#ff3010" stroke-width="1.2"/>
<line x1="615.20" y1="110.84" x2="732.10" y2="-8.80" stroke="#ff3010" stroke-width="1.2"/>
<line x1="615.20" y1="116.94" x2="732.10" y2="-2.70" stroke="#ff3010" stroke-width="1.2"/>
<line x1="615.20" y1="123.04" x2="732.10" y2="3.40" stroke="#ff3010" stroke-width="1.2"/>
<line x1="615.20" y1="129.14" x2="732.10" y2="9.50" stroke="#ff3010" stroke-width="1.2"/>
<line x1="615.20" y1="135.24" x2="732.10" y2="15.60" stroke="#ff3010" stroke-width="1.2"/>
<line x1="615.20" y1="141.34" x2="732.10" y2="21.70" stroke="#ff3010" stroke-width="1.2"/>
<line x1="615.20" y1="147.44" x2="732.10" y2="27.80" stroke="#ff3010" stroke-width="1.2"/>
<line x1="615.20" y1="153.54" x2="732.10" y2="33.90" stroke="#ff3010" stroke-width="1.2"/>
<line x1="615.20" y1="159.64" x2="732.10" y2="40.00" stroke="#ff3010" stroke-width="1.2"/>
<line x1="615.20" y1="165.74" x2="732.10" y2="46.10" stroke="#ff3010" stroke-width="1.2"/>
<line x1="615.20" y1="171.84" x2="732.10" y2="52.20" stroke="#ff3010" stroke-width="1.2"/>
<line x1="615.20" y1="177.94" x2="732.10" y2="58.30" stroke="#ff3010" stroke-width="1.2"/>
<line x1="615.20" y1="184.04" x2="732.10" y2="64.40" stroke="#ff3010" stroke-width="1.2"/>
<line x1="615.20" y1="190.14" x2="732.10" y2="70.50" stroke="#ff3010" stroke-width="1.2"/>
<line x1="615.20" y1="196.24" x2="732.10" y2="76.60" stroke="#ff3010" stroke-width="1.2"/>
<line x1="615.20" y1="202.34" x2="732.10" y2="82.70" stroke="#ff3010" stroke-width="1.2"/>
<line x1="615.20" y1="208.44" x2="732.10" y2="88.80" stroke="#ff3010" stroke-width="1.2"/>
<line x1="615.20" y1="214.54" x2="732.10" y2="94.90" stroke="#ff3010" stroke-width="1.2"/>
<line x1="615.20" y1="220.64" x2="732.10" y2="101.00" stroke="#ff3010" stroke-width="1.2"/>
<line x1="615.20" y1="226.74" x2="732.10" y2="107.10" stroke="#ff3010" stroke-width="1.2"/>
<line x1="615.20" y1="232.84" x2="732.10" y2="113.20" stroke="#ff3010" stroke-width="1.2"/>
<line x1="615.20" y1="238.94" x2="732.10" y2="119.30" stroke="#ff3010" stroke-width="1.2"/>
<line x1="615.20" y1="245.04" x2="732.10" y2="125.40" stroke="#ff3010" stroke-width="1.2"/>
<line x1="615.20" y1="251.14" x2="732.10" y2="131.50" stroke="#ff3010" stroke-width="1.2"/>
<line x1="615.20" y1="257.24" x2="732.10" y2="137.60" stroke="#ff3010" stroke-width="1.2"/>
<line x1="615.20" y1="263.34" x2="732.10" y2="143.70" stroke="#ff3010" stroke-width="1.2"/>
<line x1="615.20" y1="269.44" x2="732.10" y2="149.80" stroke="#ff3010" stroke-width="1.2"/>
<line x1="615.20" y1="275.54" x2="732.10" y2="155.90" stroke="#ff3010" stroke-width="1.2"/>
<line x1="615.20" y1="281.64" x2="732.10" y2="162.00" stroke="#ff3010" stroke-width="1.2"/>
<line x1="615.20" y1="287.74" x2="732.10" y2="168.10" stroke="#ff3010" stroke-width="1.2"/>
<line x1="615.20" y1="293.84" x2="732.10" y2="174.20" stroke="#ff3010" stroke-width="1.2"/>
<line x1="615.20" y1="299.94" x2="732.10" y2="180.30" stroke="#ff3010" stroke-width="1.2"/>
<line x1="615.20" y1="306.04" x2="732.10" y2="186.40" stroke="#ff3010" stroke-width="1.2"/>
<line x1="615.20" y1="312.14" x2="732.10" y2="192.50" stroke="#ff3010" stroke-width="1.2"/>
<line x1="615.20" y1="318.24" x2="732.10" y2="198.60" stroke="#ff3010" stroke-width="1.2"/>
<line x1="615.20" y1="324.34" x2="732.10" y2="204.70" stroke="#ff3010" stroke-width="1.2"/>
<line x1="615.20" y1="330.44" x2="732.10" y2="210.80" stroke="#ff3010" stroke-width="1.2"/>
<line x1="615.20" y1="336.54" x2="732.10" y2="216.90" stroke="#ff3010" stroke-width="1.2"/>
<line x1="615.20" y1="342.64" x2="732.10" y2="223.00" stroke="#ff3010" stroke-width="1.2"/>
<line x1="615.20" y1="348.74" x2="732.10" y2="229.10" stroke="#ff3010" stroke-width="1.2"/>
<line x1="615.20" y1="354.84" x2="732.10" y2="235.20" stroke="#ff3010" stroke-width="1.2"/>
<line x1="615.20" y1="360.94" x2="732.10" y2="241.30" stroke="#ff3010" stroke-width="1.2"/>
<line x1="615.20" y1="367.04" x2="732.10" y2="247.40" stroke="#ff3010" stroke-width="1.2"/>
<line x1="615.20" y1="373.14" x2="732.10" y2="253.50" stroke="#ff3010" stroke-width="1.2"/>
<line x1="615.20" y1="379.24" x2="732.10" y2="259.60" stroke="#ff3010" stroke-width="1.2"/>
<line x1="615.20" y1="385.34" x2="732.10" y2="265.70" stroke="#ff3010" stroke-width="1.2"/>
<line x1="615.20" y1="391.44" x2="732.10" y2="271.80" stroke="#ff3010" stroke-width="1.2"/>
<line x1="615.20" y1="397.54" x2="732.10" y2="277.90" stroke="#ff3010" stroke-width="1.2"/>
<line x1="615.20" y1="403.64" x2="732.10" y2="284.00" stroke="#ff3010" stroke-width="1.2"/>
<line x1="615.20" y1="409.74" x2="732.10" y2="290.10" stroke="#ff3010" stroke-width="1.2"/>
<line x1="615.20" y1="415.84" x2="732.10" y2="296.20" stroke="#ff3010" stroke-width="1.2"/>
<line x1="615.20" y1="421.94" x2="732.10" y2="302.30" stroke="#ff3010" stroke-width="1.2"/>
<line x1="615.20" y1="428.04" x2="732.10" y2="308.40" stroke="#ff3010" stroke-width="1.2"/>
<line x1="615.20" y1="434.14" x2="732.10" y2="314.50" stroke="#ff3010" stroke-width="1.2"/>
<line x1="615.20" y1="440.24" x2="732.10" y2="320.60" stroke="#ff3010" stroke-width="1.2"/>
<line x1="615.20" y1="446.34" x2="732.10" y2="326.70" stroke="#ff3010" stroke-width="1.2"/>
<line x1="615.20" y1="452.44" x2="732.10" y2="332.80" stroke="#ff3010" stroke-width="1.2"/>
<line x1="615.20" y1="458.54" x2="732.10" y2="338.90" stroke="#ff3010" stroke-width="1.2"/>
<line x1="615.20" y1="464.64" x2="732.10" y2="345.00" stroke="#ff3010" stroke-width="1.2"/>
<line x1="615.20" y1="470.74" x2="732.10" y2="351.10" stroke="#ff3010" stroke-width="1.2"/>
<line x1="615.20" y1="476.84" x2="732.10" y2="357.20" stroke="#ff3010" stroke-width="1.2"/>
<line x1="615.20" y1="482.94" x2="732.10" y2="363.30" stroke="#ff3010" stroke-width="1.2"/>
<line x1="615.20" y1="489.04" x2="732.10" y2="369.40" stroke="#ff3010" stroke-width="1.2"/>
<line x1="615.20" y1="495.14" x2="732.10" y2="375.50" stroke="#ff3010" stroke-width="1.2"/>
<line x1="615.20" y1="501.24" x2="732.10" y2="381.60" stroke="#ff3010" stroke-width="1.2"/>
<line x1="615.20" y1="507.34" x2="732.10" y2="387.70" stroke="#ff3010" stroke-width="1.2"/>
<line x1="615.20" y1="513.44" x2="732.10" y2="393.80" stroke="#ff3010" stroke-width="1.2"/>
<line x1="615.20" y1="519.54" x2="732.10" y2="399.90" stroke="#ff3010" stroke-width="1.2"/>
<line x1="615.20" y1="525.64" x2="732.10" y2="406.00" stroke="#ff3010" stroke-width="1.2"/>
<line x1="615.20" y1="531.74" x2="732.10" y2="412.10" stroke="#ff3010" stroke-width="1.2"/>
<line x1="615.20" y1="537.84" x2="732.10" y2="418.20" stroke="#ff3010" stroke-width="1.2"/>
<line x1="615.20" y1="543.94" x2="732.10" y2="424.30" stroke="#ff3010" stroke-width="1.2"/>
<line x1="615.20" y1="550.04" x2="732.10" y2="430.40" stroke="#ff3010" stroke-width="1.2"/>
<line x1="615.20" y1="556.14" x2="732.10" y2="436.50" stroke="#ff3010" stroke-width="1.2"/>
<line x1="615.20" y1="562.24" x2="732.10" y2="442.60" stroke="#ff3010" stroke-width="1.2"/>
<line x1="615.20" y1="568.34" x2="732.10" y2="448.70" stroke="#ff3010" stroke-width="1.2"/>
<line x1="615.20" y1="574.44" x2="732.10" y2="454.80" stroke="#ff3010" stroke-width="1.2"/>
<line x1="615.20" y1="580.54" x2="732.10" y2="460.90" stroke="#ff3010" stroke-width="1.2"/>
<line x1="615.20" y1="586.64" x2="732.10" y2="467.00" stroke="#ff3010" stroke-width="1.2"/>
<line x1="615.20" y1="592.74" x2="732.10" y2="473.10" stroke="#ff3010" stroke-width="1.2"/>
<line x1="615.20" y1="598.84" x2="732.10" y2="479.20" stroke="#ff3010" stroke-width="1.2"/>
</g>
<line x1="615.2" y1="240.0" x2="615.2" y2="469.8" stroke="#ff3010" stroke-width="0.8"/>
<line x1="129.70" y1="10.2" x2="129.70" y2="15.0" stroke="#000" stroke-width="1.35"/>
<line x1="129.70" y1="235.2" x2="129.70" y2="244.8" stroke="#000" stroke-width="1.35"/>
<line x1="129.70" y1="465.0" x2="129.70" y2="469.8" stroke="#000" stroke-width="1.35"/>
<line x1="169.85" y1="10.2" x2="169.85" y2="12.6" stroke="#000" stroke-width="1.35"/>
<line x1="169.85" y1="237.6" x2="169.85" y2="242.4" stroke="#000" stroke-width="1.35"/>
<line x1="169.85" y1="467.40000000000003" x2="169.85" y2="469.8" stroke="#000" stroke-width="1.35"/>
<line x1="210.00" y1="10.2" x2="210.00" y2="15.0" stroke="#000" stroke-width="1.35"/>
<line x1="210.00" y1="235.2" x2="210.00" y2="244.8" stroke="#000" stroke-width="1.35"/>
<line x1="210.00" y1="465.0" x2="210.00" y2="469.8" stroke="#000" stroke-width="1.35"/>
<line x1="250.15" y1="10.2" x2="250.15" y2="12.6" stroke="#000" stroke-width="1.35"/>
<line x1="250.15" y1="237.6" x2="250.15" y2="242.4" stroke="#000" stroke-width="1.35"/>
<line x1="250.15" y1="467.40000000000003" x2="250.15" y2="469.8" stroke="#000" stroke-width="1.35"/>
<line x1="290.30" y1="10.2" x2="290.30" y2="15.0" stroke="#000" stroke-width="1.35"/>
<line x1="290.30" y1="235.2" x2="290.30" y2="244.8" stroke="#000" stroke-width="1.35"/>
<line x1="290.30" y1="465.0" x2="290.30" y2="469.8" stroke="#000" stroke-width="1.35"/>
<line x1="330.45" y1="10.2" x2="330.45" y2="12.6" stroke="#000" stroke-width="1.35"/>
<line x1="330.45" y1="237.6" x2="330.45" y2="242.4" stroke="#000" stroke-width="1.35"/>
<line x1="330.45" y1="467.40000000000003" x2="330.45" y2="469.8" stroke="#000" stroke-width="1.35"/>
<line x1="370.60" y1="10.2" x2="370.60" y2="15.0" stroke="#000" stroke-width="1.35"/>
<line x1="370.60" y1="235.2" x2="370.60" y2="244.8" stroke="#000" stroke-width="1.35"/>
<line x1="370.60" y1="465.0" x2="370.60" y2="469.8" stroke="#000" stroke-width="1.35"/>
<line x1="450.80" y1="10.2" x2="450.80" y2="15.0" stroke="#000" stroke-width="1.35"/>
<line x1="450.80" y1="235.2" x2="450.80" y2="244.8" stroke="#000" stroke-width="1.35"/>
<line x1="450.80" y1="465.0" x2="450.80" y2="469.8" stroke="#000" stroke-width="1.35"/>
<line x1="490.95" y1="10.2" x2="490.95" y2="12.6" stroke="#000" stroke-width="1.35"/>
<line x1="490.95" y1="237.6" x2="490.95" y2="242.4" stroke="#000" stroke-width="1.35"/>
<line x1="490.95" y1="467.40000000000003" x2="490.95" y2="469.8" stroke="#000" stroke-width="1.35"/>
<line x1="531.10" y1="10.2" x2="531.10" y2="15.0" stroke="#000" stroke-width="1.35"/>
<line x1="531.10" y1="235.2" x2="531.10" y2="244.8" stroke="#000" stroke-width="1.35"/>
<line x1="531.10" y1="465.0" x2="531.10" y2="469.8" stroke="#000" stroke-width="1.35"/>
<line x1="571.25" y1="10.2" x2="571.25" y2="12.6" stroke="#000" stroke-width="1.35"/>
<line x1="571.25" y1="237.6" x2="571.25" y2="242.4" stroke="#000" stroke-width="1.35"/>
<line x1="571.25" y1="467.40000000000003" x2="571.25" y2="469.8" stroke="#000" stroke-width="1.35"/>
<line x1="611.40" y1="10.2" x2="611.40" y2="15.0" stroke="#000" stroke-width="1.35"/>
<line x1="611.40" y1="235.2" x2="611.40" y2="244.8" stroke="#000" stroke-width="1.35"/>
<line x1="611.40" y1="465.0" x2="611.40" y2="469.8" stroke="#000" stroke-width="1.35"/>
<line x1="651.55" y1="10.2" x2="651.55" y2="12.6" stroke="#000" stroke-width="1.35"/>
<line x1="651.55" y1="237.6" x2="651.55" y2="242.4" stroke="#000" stroke-width="1.35"/>
<line x1="651.55" y1="467.40000000000003" x2="651.55" y2="469.8" stroke="#000" stroke-width="1.35"/>
<line x1="691.70" y1="10.2" x2="691.70" y2="15.0" stroke="#000" stroke-width="1.35"/>
<line x1="691.70" y1="235.2" x2="691.70" y2="244.8" stroke="#000" stroke-width="1.35"/>
<line x1="691.70" y1="465.0" x2="691.70" y2="469.8" stroke="#000" stroke-width="1.35"/>
<line x1="89.8" y1="214.47" x2="93.0" y2="214.47" stroke="#000" stroke-width="1.35"/>
<line x1="407.7" y1="214.47" x2="414.09999999999997" y2="214.47" stroke="#000" stroke-width="1.35"/>
<line x1="728.9" y1="214.47" x2="732.1" y2="214.47" stroke="#000" stroke-width="1.35"/>
<line x1="89.8" y1="188.93" x2="96.2" y2="188.93" stroke="#000" stroke-width="1.35"/>
<line x1="404.5" y1="188.93" x2="417.29999999999995" y2="188.93" stroke="#000" stroke-width="1.35"/>
<line x1="725.7" y1="188.93" x2="732.1" y2="188.93" stroke="#000" stroke-width="1.35"/>
<line x1="89.8" y1="163.40" x2="93.0" y2="163.40" stroke="#000" stroke-width="1.35"/>
<line x1="407.7" y1="163.40" x2="414.09999999999997" y2="163.40" stroke="#000" stroke-width="1.35"/>
<line x1="728.9" y1="163.40" x2="732.1" y2="163.40" stroke="#000" stroke-width="1.35"/>
<line x1="89.8" y1="137.87" x2="96.2" y2="137.87" stroke="#000" stroke-width="1.35"/>
<line x1="404.5" y1="137.87" x2="417.29999999999995" y2="137.87" stroke="#000" stroke-width="1.35"/>
<line x1="725.7" y1="137.87" x2="732.1" y2="137.87" stroke="#000" stroke-width="1.35"/>
<line x1="89.8" y1="112.33" x2="93.0" y2="112.33" stroke="#000" stroke-width="1.35"/>
<line x1="407.7" y1="112.33" x2="414.09999999999997" y2="112.33" stroke="#000" stroke-width="1.35"/>
<line x1="728.9" y1="112.33" x2="732.1" y2="112.33" stroke="#000" stroke-width="1.35"/>
<line x1="89.8" y1="86.80" x2="96.2" y2="86.80" stroke="#000" stroke-width="1.35"/>
<line x1="404.5" y1="86.80" x2="417.29999999999995" y2="86.80" stroke="#000" stroke-width="1.35"/>
<line x1="725.7" y1="86.80" x2="732.1" y2="86.80" stroke="#000" stroke-width="1.35"/>
<line x1="89.8" y1="61.27" x2="93.0" y2="61.27" stroke="#000" stroke-width="1.35"/>
<line x1="407.7" y1="61.27" x2="414.09999999999997" y2="61.27" stroke="#000" stroke-width="1.35"/>
<line x1="728.9" y1="61.27" x2="732.1" y2="61.27" stroke="#000" stroke-width="1.35"/>
<line x1="89.8" y1="35.73" x2="96.2" y2="35.73" stroke="#000" stroke-width="1.35"/>
<line x1="404.5" y1="35.73" x2="417.29999999999995" y2="35.73" stroke="#000" stroke-width="1.35"/>
<line x1="725.7" y1="35.73" x2="732.1" y2="35.73" stroke="#000" stroke-width="1.35"/>
<line x1="89.8" y1="444.27" x2="93.0" y2="444.27" stroke="#000" stroke-width="1.35"/>
<line x1="407.7" y1="444.27" x2="414.09999999999997" y2="444.27" stroke="#000" stroke-width="1.35"/>
<line x1="728.9" y1="444.27" x2="732.1" y2="444.27" stroke="#000" stroke-width="1.35"/>
<line x1="89.8" y1="418.73" x2="96.2" y2="418.73" stroke="#000" stroke-width="1.35"/>
<line x1="404.5" y1="418.73" x2="417.29999999999995" y2="418.73" stroke="#000" stroke-width="1.35"/>
<line x1="725.7" y1="418.73" x2="732.1" y2="418.73" stroke="#000" stroke-width="1.35"/>
<line x1="89.8" y1="393.20" x2="93.0" y2="393.20" stroke="#000" stroke-width="1.35"/>
<line x1="407.7" y1="393.20" x2="414.09999999999997" y2="393.20" stroke="#000" stroke-width="1.35"/>
<line x1="728.9" y1="393.20" x2="732.1" y2="393.20" stroke="#000" stroke-width="1.35"/>
<line x1="89.8" y1="367.67" x2="96.2" y2="367.67" stroke="#000" stroke-width="1.35"/>
<line x1="404.5" y1="367.67" x2="417.29999999999995" y2="367.67" stroke="#000" stroke-width="1.35"/>
<line x1="725.7" y1="367.67" x2="732.1" y2="367.67" stroke="#000" stroke-width="1.35"/>
<line x1="89.8" y1="342.13" x2="93.0" y2="342.13" stroke="#000" stroke-width="1.35"/>
<line x1="407.7" y1="342.13" x2="414.09999999999997" y2="342.13" stroke="#000" stroke-width="1.35"/>
<line x1="728.9" y1="342.13" x2="732.1" y2="342.13" stroke="#000" stroke-width="1.35"/>
<line x1="89.8" y1="316.60" x2="96.2" y2="316.60" stroke="#000" stroke-width="1.35"/>
<line x1="404.5" y1="316.60" x2="417.29999999999995" y2="316.60" stroke="#000" stroke-width="1.35"/>
<line x1="725.7" y1="316.60" x2="732.1" y2="316.60" stroke="#000" stroke-width="1.35"/>
<line x1="89.8" y1="291.07" x2="93.0" y2="291.07" stroke="#000" stroke-width="1.35"/>
<line x1="407.7" y1="291.07" x2="414.09999999999997" y2="291.07" stroke="#000" stroke-width="1.35"/>
<line x1="728.9" y1="291.07" x2="732.1" y2="291.07" stroke="#000" stroke-width="1.35"/>
<line x1="89.8" y1="265.53" x2="96.2" y2="265.53" stroke="#000" stroke-width="1.35"/>
<line x1="404.5" y1="265.53" x2="417.29999999999995" y2="265.53" stroke="#000" stroke-width="1.35"/>
<line x1="725.7" y1="265.53" x2="732.1" y2="265.53" stroke="#000" stroke-width="1.35"/>
<line x1="410.9" y1="10.2" x2="410.9" y2="469.8" stroke="#000" stroke-width="1.9"/>
<line x1="732.1" y1="10.2" x2="732.1" y2="469.8" stroke="#000" stroke-width="1.6" fill="none"/>
<line x1="89.8" y1="469.8" x2="732.1" y2="469.8" stroke="#000" stroke-width="1.6" fill="none"/>
<g opacity="0.999">
<path d="M58.80 186.63 L61.15 184.53 L61.15 195.93 M58.90 195.98 L63.60 195.98" fill="none" stroke="#000" stroke-width="1.95" stroke-linejoin="miter"/><ellipse cx="71.90" cy="190.28" rx="4.1" ry="5.7" fill="none" stroke="#000" stroke-width="1.95"/><path transform="translate(78.80,187.53)" d="M3.3,0 L3.3,-7.0 L0,-2.2 L4.9,-2.2" fill="none" stroke="#000" stroke-width="1.8" stroke-linejoin="round" stroke-linecap="butt"/>
<path d="M58.80 135.57 L61.15 133.47 L61.15 144.87 M58.90 144.92 L63.60 144.92" fill="none" stroke="#000" stroke-width="1.95" stroke-linejoin="miter"/><ellipse cx="71.90" cy="139.22" rx="4.1" ry="5.7" fill="none" stroke="#000" stroke-width="1.95"/><path transform="translate(78.80,136.47)" d="M4.0,-6.1 C3.6,-6.7 3.1,-7.0 2.4,-7.0 C0.8,-7.0 0,-5.4 0,-3.2 C0,-1.2 0.8,0 2.2,0 C3.5,0 4.4,-0.9 4.4,-2.2 C4.4,-3.5 3.5,-4.3 2.3,-4.3 C1.1,-4.3 0.2,-3.5 0,-2.4" fill="none" stroke="#000" stroke-width="1.8" stroke-linejoin="round" stroke-linecap="butt"/>
<path d="M58.80 84.50 L61.15 82.40 L61.15 93.80 M58.90 93.85 L63.60 93.85" fill="none" stroke="#000" stroke-width="1.95" stroke-linejoin="miter"/><ellipse cx="71.90" cy="88.15" rx="4.1" ry="5.7" fill="none" stroke="#000" stroke-width="1.95"/><path transform="translate(78.80,85.40)" d="M2.3,-3.9 C1.1,-3.9 0.4,-4.6 0.4,-5.45 C0.4,-6.3 1.1,-7.0 2.3,-7.0 C3.5,-7.0 4.2,-6.3 4.2,-5.45 C4.2,-4.6 3.5,-3.9 2.3,-3.9 C0.9,-3.9 0,-3.1 0,-1.95 C0,-0.8 0.9,0 2.3,0 C3.7,0 4.6,-0.8 4.6,-1.95 C4.6,-3.1 3.7,-3.9 2.3,-3.9 Z" fill="none" stroke="#000" stroke-width="1.8" stroke-linejoin="round" stroke-linecap="butt"/>
<path d="M52.20 33.43 L54.55 31.33 L54.55 42.73 M52.30 42.78 L57.00 42.78" fill="none" stroke="#000" stroke-width="1.95" stroke-linejoin="miter"/><ellipse cx="65.30" cy="37.08" rx="4.1" ry="5.7" fill="none" stroke="#000" stroke-width="1.95"/><path transform="translate(73.00,34.33)" d="M0.2,-5.6 L1.9,-7.0 L1.9,0 M0.3,0 L3.4,0" fill="none" stroke="#000" stroke-width="1.8" stroke-linejoin="round" stroke-linecap="butt"/><path transform="translate(78.95,34.33)" d="M2.15,0 C0.55,0 0,-1.6 0,-3.5 C0,-5.4 0.55,-7.0 2.15,-7.0 C3.75,-7.0 4.3,-5.4 4.3,-3.5 C4.3,-1.6 3.75,0 2.15,0 Z" fill="none" stroke="#000" stroke-width="1.8" stroke-linejoin="round" stroke-linecap="butt"/>
<path d="M58.80 230.50 L61.15 228.40 L61.15 239.80 M58.90 239.85 L63.60 239.85" fill="none" stroke="#000" stroke-width="1.95" stroke-linejoin="miter"/><ellipse cx="71.90" cy="234.15" rx="4.1" ry="5.7" fill="none" stroke="#000" stroke-width="1.95"/><path transform="translate(78.80,231.40)" d="M0.2,-5.2 C0.2,-6.4 1.0,-7.0 2.2,-7.0 C3.4,-7.0 4.2,-6.3 4.2,-5.2 C4.2,-3.9 2.6,-2.6 0,0 L4.5,0" fill="none" stroke="#000" stroke-width="1.8" stroke-linejoin="round" stroke-linecap="butt"/>
<path d="M58.80 416.43 L61.15 414.33 L61.15 425.73 M58.90 425.78 L63.60 425.78" fill="none" stroke="#000" stroke-width="1.95" stroke-linejoin="miter"/><ellipse cx="71.90" cy="420.08" rx="4.1" ry="5.7" fill="none" stroke="#000" stroke-width="1.95"/><path transform="translate(78.80,417.33)" d="M3.3,0 L3.3,-7.0 L0,-2.2 L4.9,-2.2" fill="none" stroke="#000" stroke-width="1.8" stroke-linejoin="round" stroke-linecap="butt"/>
<path d="M58.80 365.37 L61.15 363.27 L61.15 374.67 M58.90 374.72 L63.60 374.72" fill="none" stroke="#000" stroke-width="1.95" stroke-linejoin="miter"/><ellipse cx="71.90" cy="369.02" rx="4.1" ry="5.7" fill="none" stroke="#000" stroke-width="1.95"/><path transform="translate(78.80,366.27)" d="M4.0,-6.1 C3.6,-6.7 3.1,-7.0 2.4,-7.0 C0.8,-7.0 0,-5.4 0,-3.2 C0,-1.2 0.8,0 2.2,0 C3.5,0 4.4,-0.9 4.4,-2.2 C4.4,-3.5 3.5,-4.3 2.3,-4.3 C1.1,-4.3 0.2,-3.5 0,-2.4" fill="none" stroke="#000" stroke-width="1.8" stroke-linejoin="round" stroke-linecap="butt"/>
<path d="M58.80 314.30 L61.15 312.20 L61.15 323.60 M58.90 323.65 L63.60 323.65" fill="none" stroke="#000" stroke-width="1.95" stroke-linejoin="miter"/><ellipse cx="71.90" cy="317.95" rx="4.1" ry="5.7" fill="none" stroke="#000" stroke-width="1.95"/><path transform="translate(78.80,315.20)" d="M2.3,-3.9 C1.1,-3.9 0.4,-4.6 0.4,-5.45 C0.4,-6.3 1.1,-7.0 2.3,-7.0 C3.5,-7.0 4.2,-6.3 4.2,-5.45 C4.2,-4.6 3.5,-3.9 2.3,-3.9 C0.9,-3.9 0,-3.1 0,-1.95 C0,-0.8 0.9,0 2.3,0 C3.7,0 4.6,-0.8 4.6,-1.95 C4.6,-3.1 3.7,-3.9 2.3,-3.9 Z" fill="none" stroke="#000" stroke-width="1.8" stroke-linejoin="round" stroke-linecap="butt"/>
<path d="M52.20 263.23 L54.55 261.13 L54.55 272.53 M52.30 272.58 L57.00 272.58" fill="none" stroke="#000" stroke-width="1.95" stroke-linejoin="miter"/><ellipse cx="65.30" cy="266.88" rx="4.1" ry="5.7" fill="none" stroke="#000" stroke-width="1.95"/><path transform="translate(73.00,264.13)" d="M0.2,-5.6 L1.9,-7.0 L1.9,0 M0.3,0 L3.4,0" fill="none" stroke="#000" stroke-width="1.8" stroke-linejoin="round" stroke-linecap="butt"/><path transform="translate(78.95,264.13)" d="M2.15,0 C0.55,0 0,-1.6 0,-3.5 C0,-5.4 0.55,-7.0 2.15,-7.0 C3.75,-7.0 4.3,-5.4 4.3,-3.5 C4.3,-1.6 3.75,0 2.15,0 Z" fill="none" stroke="#000" stroke-width="1.8" stroke-linejoin="round" stroke-linecap="butt"/>
<path d="M58.80 460.30 L61.15 458.20 L61.15 469.60 M58.90 469.65 L63.60 469.65" fill="none" stroke="#000" stroke-width="1.95" stroke-linejoin="miter"/><ellipse cx="71.90" cy="463.95" rx="4.1" ry="5.7" fill="none" stroke="#000" stroke-width="1.95"/><path transform="translate(78.80,461.20)" d="M0.2,-5.2 C0.2,-6.4 1.0,-7.0 2.2,-7.0 C3.4,-7.0 4.2,-6.3 4.2,-5.2 C4.2,-3.9 2.6,-2.6 0,0 L4.5,0" fill="none" stroke="#000" stroke-width="1.8" stroke-linejoin="round" stroke-linecap="butt"/>
<path d="M114.10 485.00 L116.45 482.90 L116.45 494.30 M114.20 494.35 L118.90 494.35" fill="none" stroke="#000" stroke-width="1.95" stroke-linejoin="miter"/><ellipse cx="127.20" cy="488.65" rx="4.1" ry="5.7" fill="none" stroke="#000" stroke-width="1.95"/><path transform="translate(134.30,485.90)" d="M0,-3.0 L5.2,-3.0" fill="none" stroke="#000" stroke-width="1.15" stroke-linejoin="round" stroke-linecap="butt"/><path transform="translate(142.10,485.90)" d="M4.0,-6.1 C3.6,-6.7 3.1,-7.0 2.4,-7.0 C0.8,-7.0 0,-5.4 0,-3.2 C0,-1.2 0.8,0 2.2,0 C3.5,0 4.4,-0.9 4.4,-2.2 C4.4,-3.5 3.5,-4.3 2.3,-4.3 C1.1,-4.3 0.2,-3.5 0,-2.4" fill="none" stroke="#000" stroke-width="1.8" stroke-linejoin="round" stroke-linecap="butt"/>
<path d="M194.40 485.00 L196.75 482.90 L196.75 494.30 M194.50 494.35 L199.20 494.35" fill="none" stroke="#000" stroke-width="1.95" stroke-linejoin="miter"/><ellipse cx="207.50" cy="488.65" rx="4.1" ry="5.7" fill="none" stroke="#000" stroke-width="1.95"/><path transform="translate(214.60,485.90)" d="M0,-3.0 L5.2,-3.0" fill="none" stroke="#000" stroke-width="1.15" stroke-linejoin="round" stroke-linecap="butt"/><path transform="translate(222.40,485.90)" d="M3.3,0 L3.3,-7.0 L0,-2.2 L4.9,-2.2" fill="none" stroke="#000" stroke-width="1.8" stroke-linejoin="round" stroke-linecap="butt"/>
<path d="M274.70 485.00 L277.05 482.90 L277.05 494.30 M274.80 494.35 L279.50 494.35" fill="none" stroke="#000" stroke-width="1.95" stroke-linejoin="miter"/><ellipse cx="287.80" cy="488.65" rx="4.1" ry="5.7" fill="none" stroke="#000" stroke-width="1.95"/><path transform="translate(294.90,485.90)" d="M0,-3.0 L5.2,-3.0" fill="none" stroke="#000" stroke-width="1.15" stroke-linejoin="round" stroke-linecap="butt"/><path transform="translate(302.70,485.90)" d="M0.2,-5.2 C0.2,-6.4 1.0,-7.0 2.2,-7.0 C3.4,-7.0 4.2,-6.3 4.2,-5.2 C4.2,-3.9 2.6,-2.6 0,0 L4.5,0" fill="none" stroke="#000" stroke-width="1.8" stroke-linejoin="round" stroke-linecap="butt"/>
<path d="M359.20 485.00 L361.55 482.90 L361.55 494.30 M359.30 494.35 L364.00 494.35" fill="none" stroke="#000" stroke-width="1.95" stroke-linejoin="miter"/><ellipse cx="372.30" cy="488.65" rx="4.1" ry="5.7" fill="none" stroke="#000" stroke-width="1.95"/><path transform="translate(379.60,485.90)" d="M2.15,0 C0.55,0 0,-1.6 0,-3.5 C0,-5.4 0.55,-7.0 2.15,-7.0 C3.75,-7.0 4.3,-5.4 4.3,-3.5 C4.3,-1.6 3.75,0 2.15,0 Z" fill="none" stroke="#000" stroke-width="1.8" stroke-linejoin="round" stroke-linecap="butt"/>
<path d="M435.20 485.00 L437.55 482.90 L437.55 494.30 M435.30 494.35 L440.00 494.35" fill="none" stroke="#000" stroke-width="1.95" stroke-linejoin="miter"/><ellipse cx="448.30" cy="488.65" rx="4.1" ry="5.7" fill="none" stroke="#000" stroke-width="1.95"/><path transform="translate(455.40,485.90)" d="M0,-3.0 L5.2,-3.0" fill="none" stroke="#000" stroke-width="1.15" stroke-linejoin="round" stroke-linecap="butt"/><path transform="translate(463.20,485.90)" d="M4.0,-6.1 C3.6,-6.7 3.1,-7.0 2.4,-7.0 C0.8,-7.0 0,-5.4 0,-3.2 C0,-1.2 0.8,0 2.2,0 C3.5,0 4.4,-0.9 4.4,-2.2 C4.4,-3.5 3.5,-4.3 2.3,-4.3 C1.1,-4.3 0.2,-3.5 0,-2.4" fill="none" stroke="#000" stroke-width="1.8" stroke-linejoin="round" stroke-linecap="butt"/>
<path d="M515.50 485.00 L517.85 482.90 L517.85 494.30 M515.60 494.35 L520.30 494.35" fill="none" stroke="#000" stroke-width="1.95" stroke-linejoin="miter"/><ellipse cx="528.60" cy="488.65" rx="4.1" ry="5.7" fill="none" stroke="#000" stroke-width="1.95"/><path transform="translate(535.70,485.90)" d="M0,-3.0 L5.2,-3.0" fill="none" stroke="#000" stroke-width="1.15" stroke-linejoin="round" stroke-linecap="butt"/><path transform="translate(543.50,485.90)" d="M3.3,0 L3.3,-7.0 L0,-2.2 L4.9,-2.2" fill="none" stroke="#000" stroke-width="1.8" stroke-linejoin="round" stroke-linecap="butt"/>
<path d="M595.80 485.00 L598.15 482.90 L598.15 494.30 M595.90 494.35 L600.60 494.35" fill="none" stroke="#000" stroke-width="1.95" stroke-linejoin="miter"/><ellipse cx="608.90" cy="488.65" rx="4.1" ry="5.7" fill="none" stroke="#000" stroke-width="1.95"/><path transform="translate(616.00,485.90)" d="M0,-3.0 L5.2,-3.0" fill="none" stroke="#000" stroke-width="1.15" stroke-linejoin="round" stroke-linecap="butt"/><path transform="translate(623.80,485.90)" d="M0.2,-5.2 C0.2,-6.4 1.0,-7.0 2.2,-7.0 C3.4,-7.0 4.2,-6.3 4.2,-5.2 C4.2,-3.9 2.6,-2.6 0,0 L4.5,0" fill="none" stroke="#000" stroke-width="1.8" stroke-linejoin="round" stroke-linecap="butt"/>
<path d="M680.30 485.00 L682.65 482.90 L682.65 494.30 M680.40 494.35 L685.10 494.35" fill="none" stroke="#000" stroke-width="1.95" stroke-linejoin="miter"/><ellipse cx="693.40" cy="488.65" rx="4.1" ry="5.7" fill="none" stroke="#000" stroke-width="1.95"/><path transform="translate(700.70,485.90)" d="M2.15,0 C0.55,0 0,-1.6 0,-3.5 C0,-5.4 0.55,-7.0 2.15,-7.0 C3.75,-7.0 4.3,-5.4 4.3,-3.5 C4.3,-1.6 3.75,0 2.15,0 Z" fill="none" stroke="#000" stroke-width="1.8" stroke-linejoin="round" stroke-linecap="butt"/>
<g transform="translate(202.70,516.70)"><g transform="translate(-202.7,-516.7)"><path d="M202.9,508.0 L204.9,508.0 L204.9,515.6 M204.9,510.3 C205.5,508.7 206.6,507.7 207.9,507.7 C209.3,507.7 209.95,508.6 209.95,510.0 L209.95,515.6 M209.95,510.3 C210.6,508.7 211.7,507.7 213.1,507.7 C214.6,507.7 215.35,508.6 215.35,510.0 L215.35,515.6" fill="none" stroke="#000" stroke-width="2.1" stroke-linejoin="round" stroke-linejoin="miter"/><path d="M202.5,515.85 L207.2,515.85 M207.9,515.85 L212.1,515.85 M213.2,515.85 L217.9,515.85" fill="none" stroke="#000" stroke-width="1.3" stroke-linejoin="round" /></g><path transform="translate(18.33,2.52) scale(0.96)" d="M0.2,-5.9 C0.6,-6.6 1.3,-7.0 2.2,-7.0 C3.4,-7.0 4.1,-6.3 4.1,-5.3 C4.1,-4.3 3.3,-3.7 2.0,-3.7 C3.5,-3.7 4.4,-3.0 4.4,-1.9 C4.4,-0.8 3.5,0 2.2,0 C1.1,0 0.3,-0.5 0,-1.3" fill="none" stroke="#000" stroke-width="2.03" stroke-linejoin="round"/><path transform="translate(25.45,2.52) scale(0.96)" d="M0,2.0 L5.0,-8.6" fill="none" stroke="#000" stroke-width="2.03" stroke-linejoin="round"/><path transform="translate(33.15,2.52) scale(0.96)" d="M0.2,-5.2 C0.2,-6.4 1.0,-7.0 2.2,-7.0 C3.4,-7.0 4.2,-6.3 4.2,-5.2 C4.2,-3.9 2.6,-2.6 0,0 L4.5,0" fill="none" stroke="#000" stroke-width="2.03" stroke-linejoin="round"/><g transform="translate(-202.70,-516.7)"><path d="M255.4,502.5 L251.45,502.5 L251.45,519.0 L255.4,519.0" fill="none" stroke="#000" stroke-width="1.6" stroke-linejoin="round" stroke-linejoin="miter"/><path d="M266.5,507.5 C265.6,505.9 264.3,505.0 262.6,505.0 C259.9,505.0 258.1,507.2 258.1,510.4 C258.1,513.6 259.9,515.8 262.6,515.8 C264.3,515.8 265.6,515.1 266.5,513.7 L266.5,511.1 M263.7,511.1 L268.0,511.1" fill="none" stroke="#000" stroke-width="1.85" stroke-linejoin="round" /><path d="M271.1,511.8 L277.1,511.8 C277.1,510.1 276.0,508.9 274.05,508.9 C272.2,508.9 271.1,510.4 271.1,512.4 C271.1,514.4 272.3,515.8 274.2,515.8 C275.6,515.8 276.6,515.3 277.2,514.3" fill="none" stroke="#000" stroke-width="1.85" stroke-linejoin="round" /><path d="M282.15,505 L285.15,515.6 L288.3,505 M280.1,505 L284.2,505 M286.5,505 L290.3,505" fill="none" stroke="#000" stroke-width="1.85" stroke-linejoin="round" stroke-linejoin="miter" stroke-miterlimit="2"/><path d="M291.2,502.5 L295.2,502.5 L295.2,519.0 L291.2,519.0" fill="none" stroke="#000" stroke-width="1.6" stroke-linejoin="round" stroke-linejoin="miter"/></g></g>
<g transform="translate(523.90,516.70)"><g transform="translate(-202.7,-516.7)"><path d="M202.9,508.0 L204.9,508.0 L204.9,515.6 M204.9,510.3 C205.5,508.7 206.6,507.7 207.9,507.7 C209.3,507.7 209.95,508.6 209.95,510.0 L209.95,515.6 M209.95,510.3 C210.6,508.7 211.7,507.7 213.1,507.7 C214.6,507.7 215.35,508.6 215.35,510.0 L215.35,515.6" fill="none" stroke="#000" stroke-width="2.1" stroke-linejoin="round" stroke-linejoin="miter"/><path d="M202.5,515.85 L207.2,515.85 M207.9,515.85 L212.1,515.85 M213.2,515.85 L217.9,515.85" fill="none" stroke="#000" stroke-width="1.3" stroke-linejoin="round" /></g><path transform="translate(18.33,2.52) scale(0.96)" d="M0.2,-5.9 C0.6,-6.6 1.3,-7.0 2.2,-7.0 C3.4,-7.0 4.1,-6.3 4.1,-5.3 C4.1,-4.3 3.3,-3.7 2.0,-3.7 C3.5,-3.7 4.4,-3.0 4.4,-1.9 C4.4,-0.8 3.5,0 2.2,0 C1.1,0 0.3,-0.5 0,-1.3" fill="none" stroke="#000" stroke-width="2.03" stroke-linejoin="round"/><path transform="translate(25.45,2.52) scale(0.96)" d="M0,2.0 L5.0,-8.6" fill="none" stroke="#000" stroke-width="2.03" stroke-linejoin="round"/><path transform="translate(33.15,2.52) scale(0.96)" d="M0.2,-5.2 C0.2,-6.4 1.0,-7.0 2.2,-7.0 C3.4,-7.0 4.2,-6.3 4.2,-5.2 C4.2,-3.9 2.6,-2.6 0,0 L4.5,0" fill="none" stroke="#000" stroke-width="2.03" stroke-linejoin="round"/><g transform="translate(-202.70,-516.7)"><path d="M255.4,502.5 L251.45,502.5 L251.45,519.0 L255.4,519.0" fill="none" stroke="#000" stroke-width="1.6" stroke-linejoin="round" stroke-linejoin="miter"/><path d="M266.5,507.5 C265.6,505.9 264.3,505.0 262.6,505.0 C259.9,505.0 258.1,507.2 258.1,510.4 C258.1,513.6 259.9,515.8 262.6,515.8 C264.3,515.8 265.6,515.1 266.5,513.7 L266.5,511.1 M263.7,511.1 L268.0,511.1" fill="none" stroke="#000" stroke-width="1.85" stroke-linejoin="round" /><path d="M271.1,511.8 L277.1,511.8 C277.1,510.1 276.0,508.9 274.05,508.9 C272.2,508.9 271.1,510.4 271.1,512.4 C271.1,514.4 272.3,515.8 274.2,515.8 C275.6,515.8 276.6,515.3 277.2,514.3" fill="none" stroke="#000" stroke-width="1.85" stroke-linejoin="round" /><path d="M282.15,505 L285.15,515.6 L288.3,505 M280.1,505 L284.2,505 M286.5,505 L290.3,505" fill="none" stroke="#000" stroke-width="1.85" stroke-linejoin="round" stroke-linejoin="miter" stroke-miterlimit="2"/><path d="M291.2,502.5 L295.2,502.5 L295.2,519.0 L291.2,519.0" fill="none" stroke="#000" stroke-width="1.6" stroke-linejoin="round" stroke-linejoin="miter"/></g></g>
<g transform="translate(35.50,166.70) rotate(-90)"><path d="M0.75,-9.9 L0.75,-11.8 L8.45,-11.8 L8.45,-9.9 M4.6,-11.8 L4.6,-0.8 M2.3,-0.75 L6.9,-0.75" fill="none" stroke="#000" stroke-width="1.85" stroke-linejoin="round" stroke-linejoin="miter"/><path transform="translate(11.17,3.02) scale(0.96)" d="M0,0 L0,-6.8 L2.9,-6.8 C4.3,-6.8 4.9,-6.0 4.9,-5.05 C4.9,-4.1 4.3,-3.3 2.9,-3.3 L0,-3.3 M2.6,-3.3 L4.9,0" fill="none" stroke="#000" stroke-width="2.03" stroke-linejoin="round"/><path transform="translate(18.73,3.02) scale(0.96)" d="M0,0 L0,-6.8 M4.9,0 L4.9,-6.8 M0,-3.5 L4.9,-3.5" fill="none" stroke="#000" stroke-width="2.03" stroke-linejoin="round"/><g transform="translate(-215.10,-516.7)"><path d="M255.4,502.5 L251.45,502.5 L251.45,519.0 L255.4,519.0" fill="none" stroke="#000" stroke-width="1.6" stroke-linejoin="round" stroke-linejoin="miter"/><path d="M266.5,507.5 C265.6,505.9 264.3,505.0 262.6,505.0 C259.9,505.0 258.1,507.2 258.1,510.4 C258.1,513.6 259.9,515.8 262.6,515.8 C264.3,515.8 265.6,515.1 266.5,513.7 L266.5,511.1 M263.7,511.1 L268.0,511.1" fill="none" stroke="#000" stroke-width="1.85" stroke-linejoin="round" /><path d="M271.1,511.8 L277.1,511.8 C277.1,510.1 276.0,508.9 274.05,508.9 C272.2,508.9 271.1,510.4 271.1,512.4 C271.1,514.4 272.3,515.8 274.2,515.8 C275.6,515.8 276.6,515.3 277.2,514.3" fill="none" stroke="#000" stroke-width="1.85" stroke-linejoin="round" /><path d="M282.15,505 L285.15,515.6 L288.3,505 M280.1,505 L284.2,505 M286.5,505 L290.3,505" fill="none" stroke="#000" stroke-width="1.85" stroke-linejoin="round" stroke-linejoin="miter" stroke-miterlimit="2"/><path d="M291.2,502.5 L295.2,502.5 L295.2,519.0 L291.2,519.0" fill="none" stroke="#000" stroke-width="1.6" stroke-linejoin="round" stroke-linejoin="miter"/></g></g>
<g transform="translate(35.50,396.50) rotate(-90)"><path d="M0.75,-9.9 L0.75,-11.8 L8.45,-11.8 L8.45,-9.9 M4.6,-11.8 L4.6,-0.8 M2.3,-0.75 L6.9,-0.75" fill="none" stroke="#000" stroke-width="1.85" stroke-linejoin="round" stroke-linejoin="miter"/><path transform="translate(11.17,3.02) scale(0.96)" d="M0,0 L0,-6.8 L2.9,-6.8 C4.3,-6.8 4.9,-6.0 4.9,-5.05 C4.9,-4.1 4.3,-3.3 2.9,-3.3 L0,-3.3 M2.6,-3.3 L4.9,0" fill="none" stroke="#000" stroke-width="2.03" stroke-linejoin="round"/><path transform="translate(18.73,3.02) scale(0.96)" d="M0,0 L0,-6.8 M4.9,0 L4.9,-6.8 M0,-3.5 L4.9,-3.5" fill="none" stroke="#000" stroke-width="2.03" stroke-linejoin="round"/><g transform="translate(-215.10,-516.7)"><path d="M255.4,502.5 L251.45,502.5 L251.45,519.0 L255.4,519.0" fill="none" stroke="#000" stroke-width="1.6" stroke-linejoin="round" stroke-linejoin="miter"/><path d="M266.5,507.5 C265.6,505.9 264.3,505.0 262.6,505.0 C259.9,505.0 258.1,507.2 258.1,510.4 C258.1,513.6 259.9,515.8 262.6,515.8 C264.3,515.8 265.6,515.1 266.5,513.7 L266.5,511.1 M263.7,511.1 L268.0,511.1" fill="none" stroke="#000" stroke-width="1.85" stroke-linejoin="round" /><path d="M271.1,511.8 L277.1,511.8 C277.1,510.1 276.0,508.9 274.05,508.9 C272.2,508.9 271.1,510.4 271.1,512.4 C271.1,514.4 272.3,515.8 274.2,515.8 C275.6,515.8 276.6,515.3 277.2,514.3" fill="none" stroke="#000" stroke-width="1.85" stroke-linejoin="round" /><path d="M282.15,505 L285.15,515.6 L288.3,505 M280.1,505 L284.2,505 M286.5,505 L290.3,505" fill="none" stroke="#000" stroke-width="1.85" stroke-linejoin="round" stroke-linejoin="miter" stroke-miterlimit="2"/><path d="M291.2,502.5 L295.2,502.5 L295.2,519.0 L291.2,519.0" fill="none" stroke="#000" stroke-width="1.6" stroke-linejoin="round" stroke-linejoin="miter"/></g></g>
</g>
</svg>
</body></html>
